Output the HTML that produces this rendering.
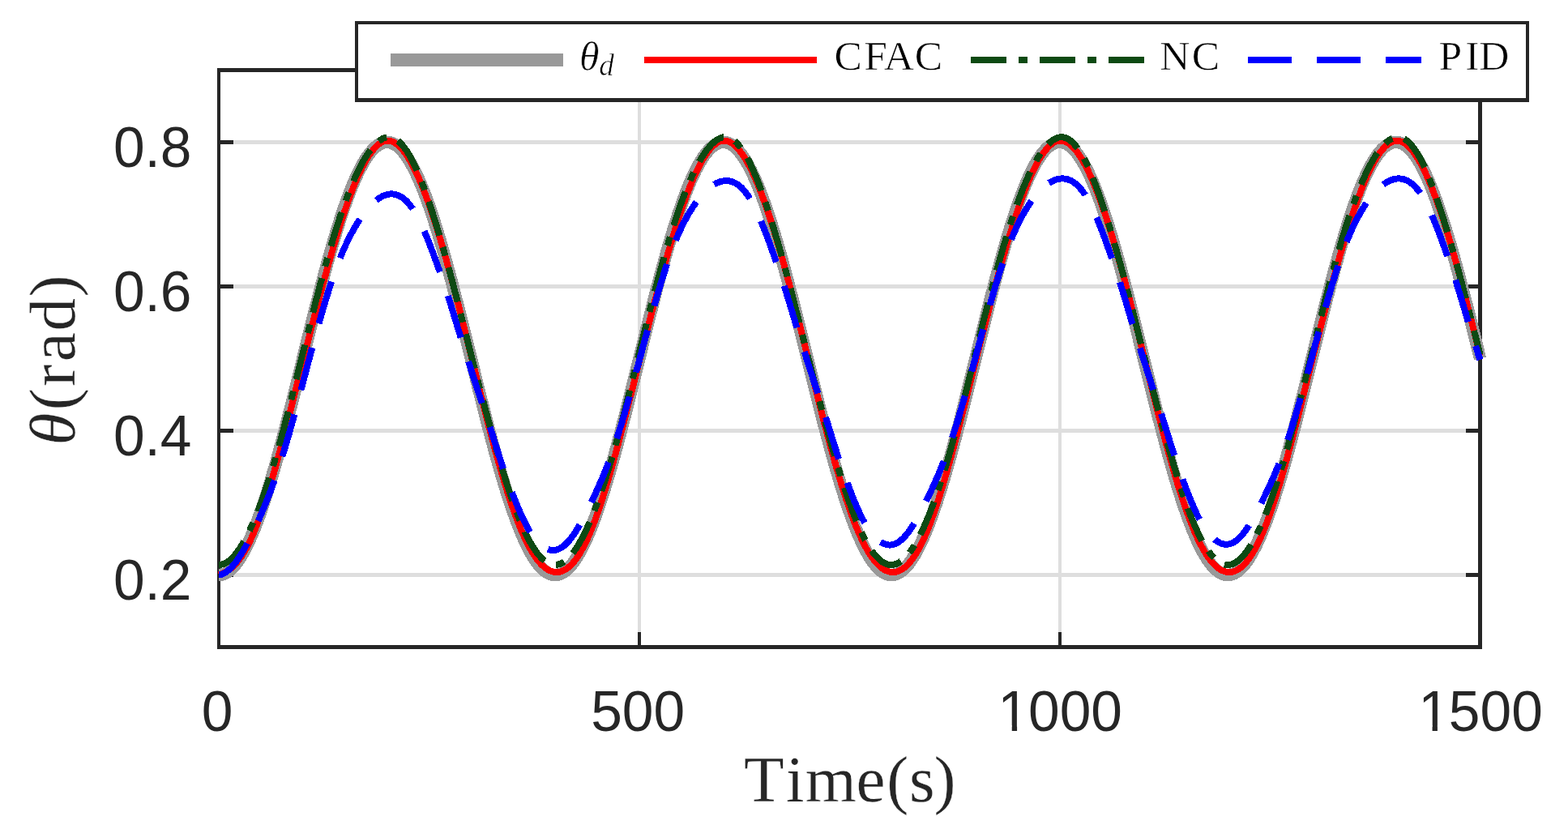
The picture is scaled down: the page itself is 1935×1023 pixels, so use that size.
<!DOCTYPE html>
<html lang="en">
<head>
<meta charset="utf-8">
<style>
html,body{margin:0;padding:0;background:#ffffff;}
body{width:1935px;height:1023px;overflow:hidden;}
svg{display:block;}
</style>
</head>
<body>
<svg width="1935" height="1023" viewBox="0 0 1935 1023">
<rect x="0" y="0" width="1935" height="1023" fill="#ffffff"/>
<g fill="#dedede" shape-rendering="crispEdges">
<rect x="787.13" y="86.40" width="4" height="712.10"/>
<rect x="1305.97" y="86.40" width="4" height="712.10"/>
<rect x="270.00" y="707.29" width="1556.50" height="4.6"/>
<rect x="270.00" y="529.26" width="1556.50" height="4.6"/>
<rect x="270.00" y="351.24" width="1556.50" height="4.6"/>
<rect x="270.00" y="173.21" width="1556.50" height="4.6"/>
</g>
<g fill="#262626" shape-rendering="crispEdges">
<rect x="787.13" y="779.50" width="4" height="19"/>
<rect x="787.13" y="86.40" width="4" height="18"/>
<rect x="1305.97" y="779.50" width="4" height="19"/>
<rect x="1305.97" y="86.40" width="4" height="18"/>
<rect x="270.00" y="707.29" width="18" height="4.6"/>
<rect x="1808.50" y="707.29" width="18" height="4.6"/>
<rect x="270.00" y="529.26" width="18" height="4.6"/>
<rect x="1808.50" y="529.26" width="18" height="4.6"/>
<rect x="270.00" y="351.24" width="18" height="4.6"/>
<rect x="1808.50" y="351.24" width="18" height="4.6"/>
<rect x="270.00" y="173.21" width="18" height="4.6"/>
<rect x="1808.50" y="173.21" width="18" height="4.6"/>
<rect x="268" y="84.1" width="4" height="716.70"/>
<rect x="1824.1" y="84.1" width="4.8" height="716.70"/>
<rect x="268" y="84.1" width="1560.90" height="4.65"/>
<rect x="268" y="796.15" width="1560.90" height="4.65"/>
</g>
<g fill="none" stroke-linejoin="round" stroke-linecap="butt" shape-rendering="crispEdges">
<path d="M270.00,709.49 L271.04,709.45 L272.08,709.36 L273.11,709.19 L274.15,708.96 L275.19,708.66 L276.23,708.30 L277.26,707.87 L278.30,707.38 L279.34,706.82 L280.38,706.20 L281.41,705.51 L282.45,704.76 L283.49,703.94 L284.53,703.06 L285.56,702.11 L286.60,701.10 L287.64,700.02 L288.68,698.88 L289.72,697.68 L290.75,696.42 L291.79,695.09 L292.83,693.70 L293.87,692.25 L294.90,690.74 L295.94,689.16 L296.98,687.52 L298.02,685.83 L299.05,684.07 L300.09,682.26 L301.13,680.38 L302.17,678.45 L303.21,676.46 L304.24,674.41 L305.28,672.30 L306.32,670.14 L307.36,667.92 L308.39,665.64 L309.43,663.31 L310.47,660.93 L311.51,658.49 L312.54,656.00 L313.58,653.45 L314.62,650.85 L315.66,648.21 L316.69,645.51 L317.73,642.76 L318.77,639.96 L319.81,637.11 L320.85,634.22 L321.88,631.27 L322.92,628.28 L323.96,625.25 L325.00,622.17 L326.03,619.05 L327.07,615.88 L328.11,612.67 L329.15,609.41 L330.18,606.12 L331.22,602.78 L332.26,599.41 L333.30,596.00 L334.34,592.55 L335.37,589.06 L336.41,585.54 L337.45,581.98 L338.49,578.38 L339.52,574.76 L340.56,571.10 L341.60,567.40 L342.64,563.68 L343.67,559.93 L344.71,556.15 L345.75,552.34 L346.79,548.50 L347.82,544.64 L348.86,540.75 L349.90,536.84 L350.94,532.91 L351.98,528.95 L353.01,524.97 L354.05,520.97 L355.09,516.95 L356.13,512.91 L357.16,508.86 L358.20,504.79 L359.24,500.70 L360.28,496.60 L361.31,492.49 L362.35,488.36 L363.39,484.22 L364.43,480.08 L365.47,475.92 L366.50,471.75 L367.54,467.58 L368.58,463.40 L369.62,459.22 L370.65,455.03 L371.69,450.84 L372.73,446.64 L373.77,442.45 L374.80,438.26 L375.84,434.06 L376.88,429.87 L377.92,425.68 L378.95,421.50 L379.99,417.32 L381.03,413.15 L382.07,408.98 L383.11,404.82 L384.14,400.68 L385.18,396.54 L386.22,392.41 L387.26,388.30 L388.29,384.20 L389.33,380.11 L390.37,376.04 L391.41,371.99 L392.44,367.95 L393.48,363.93 L394.52,359.93 L395.56,355.95 L396.60,351.99 L397.63,348.06 L398.67,344.15 L399.71,340.26 L400.75,336.40 L401.78,332.56 L402.82,328.75 L403.86,324.97 L404.90,321.22 L405.93,317.50 L406.97,313.80 L408.01,310.14 L409.05,306.52 L410.09,302.92 L411.12,299.36 L412.16,295.84 L413.20,292.35 L414.24,288.90 L415.27,285.49 L416.31,282.12 L417.35,278.78 L418.39,275.49 L419.42,272.23 L420.46,269.02 L421.50,265.85 L422.54,262.73 L423.57,259.65 L424.61,256.62 L425.65,253.63 L426.69,250.68 L427.73,247.79 L428.76,244.94 L429.80,242.14 L430.84,239.39 L431.88,236.69 L432.91,234.05 L433.95,231.45 L434.99,228.90 L436.03,226.41 L437.06,223.97 L438.10,221.59 L439.14,219.26 L440.18,216.98 L441.22,214.76 L442.25,212.60 L443.29,210.49 L444.33,208.44 L445.37,206.45 L446.40,204.52 L447.44,202.64 L448.48,200.83 L449.52,199.07 L450.55,197.38 L451.59,195.74 L452.63,194.16 L453.67,192.65 L454.70,191.20 L455.74,189.81 L456.78,188.48 L457.82,187.22 L458.86,186.02 L459.89,184.88 L460.93,183.80 L461.97,182.79 L463.01,181.84 L464.04,180.96 L465.08,180.14 L466.12,179.39 L467.16,178.70 L468.19,178.08 L469.23,177.52 L470.27,177.03 L471.31,176.60 L472.35,176.24 L473.38,175.94 L474.42,175.71 L475.46,175.54 L476.50,175.45 L477.53,175.41 L478.57,175.45 L479.61,175.54 L480.65,175.71 L481.68,175.94 L482.72,176.24 L483.76,176.60 L484.80,177.03 L485.83,177.52 L486.87,178.08 L487.91,178.70 L488.95,179.39 L489.99,180.14 L491.02,180.96 L492.06,181.84 L493.10,182.79 L494.14,183.80 L495.17,184.88 L496.21,186.02 L497.25,187.22 L498.29,188.48 L499.32,189.81 L500.36,191.20 L501.40,192.65 L502.44,194.16 L503.48,195.74 L504.51,197.38 L505.55,199.07 L506.59,200.83 L507.63,202.64 L508.66,204.52 L509.70,206.45 L510.74,208.44 L511.78,210.49 L512.81,212.60 L513.85,214.76 L514.89,216.98 L515.93,219.26 L516.96,221.59 L518.00,223.97 L519.04,226.41 L520.08,228.90 L521.12,231.45 L522.15,234.05 L523.19,236.69 L524.23,239.39 L525.27,242.14 L526.30,244.94 L527.34,247.79 L528.38,250.68 L529.42,253.63 L530.45,256.62 L531.49,259.65 L532.53,262.73 L533.57,265.85 L534.61,269.02 L535.64,272.23 L536.68,275.49 L537.72,278.78 L538.76,282.12 L539.79,285.49 L540.83,288.90 L541.87,292.35 L542.91,295.84 L543.94,299.36 L544.98,302.92 L546.02,306.52 L547.06,310.14 L548.09,313.80 L549.13,317.50 L550.17,321.22 L551.21,324.97 L552.25,328.75 L553.28,332.56 L554.32,336.40 L555.36,340.26 L556.40,344.15 L557.43,348.06 L558.47,351.99 L559.51,355.95 L560.55,359.93 L561.58,363.93 L562.62,367.95 L563.66,371.99 L564.70,376.04 L565.74,380.11 L566.77,384.20 L567.81,388.30 L568.85,392.41 L569.89,396.54 L570.92,400.68 L571.96,404.82 L573.00,408.98 L574.04,413.15 L575.07,417.32 L576.11,421.50 L577.15,425.68 L578.19,429.87 L579.22,434.06 L580.26,438.26 L581.30,442.45 L582.34,446.64 L583.38,450.84 L584.41,455.03 L585.45,459.22 L586.49,463.40 L587.53,467.58 L588.56,471.75 L589.60,475.92 L590.64,480.08 L591.68,484.22 L592.71,488.36 L593.75,492.49 L594.79,496.60 L595.83,500.70 L596.87,504.79 L597.90,508.86 L598.94,512.91 L599.98,516.95 L601.02,520.97 L602.05,524.97 L603.09,528.95 L604.13,532.91 L605.17,536.84 L606.20,540.75 L607.24,544.64 L608.28,548.50 L609.32,552.34 L610.35,556.15 L611.39,559.93 L612.43,563.68 L613.47,567.40 L614.51,571.10 L615.54,574.76 L616.58,578.38 L617.62,581.98 L618.66,585.54 L619.69,589.06 L620.73,592.55 L621.77,596.00 L622.81,599.41 L623.84,602.78 L624.88,606.12 L625.92,609.41 L626.96,612.67 L628.00,615.88 L629.03,619.05 L630.07,622.17 L631.11,625.25 L632.15,628.28 L633.18,631.27 L634.22,634.22 L635.26,637.11 L636.30,639.96 L637.33,642.76 L638.37,645.51 L639.41,648.21 L640.45,650.85 L641.48,653.45 L642.52,656.00 L643.56,658.49 L644.60,660.93 L645.64,663.31 L646.67,665.64 L647.71,667.92 L648.75,670.14 L649.79,672.30 L650.82,674.41 L651.86,676.46 L652.90,678.45 L653.94,680.38 L654.97,682.26 L656.01,684.07 L657.05,685.83 L658.09,687.52 L659.12,689.16 L660.16,690.74 L661.20,692.25 L662.24,693.70 L663.28,695.09 L664.31,696.42 L665.35,697.68 L666.39,698.88 L667.43,700.02 L668.46,701.10 L669.50,702.11 L670.54,703.06 L671.58,703.94 L672.61,704.76 L673.65,705.51 L674.69,706.20 L675.73,706.82 L676.77,707.38 L677.80,707.87 L678.84,708.30 L679.88,708.66 L680.92,708.96 L681.95,709.19 L682.99,709.36 L684.03,709.45 L685.07,709.49 L686.10,709.45 L687.14,709.36 L688.18,709.19 L689.22,708.96 L690.25,708.66 L691.29,708.30 L692.33,707.87 L693.37,707.38 L694.41,706.82 L695.44,706.20 L696.48,705.51 L697.52,704.76 L698.56,703.94 L699.59,703.06 L700.63,702.11 L701.67,701.10 L702.71,700.02 L703.74,698.88 L704.78,697.68 L705.82,696.42 L706.86,695.09 L707.90,693.70 L708.93,692.25 L709.97,690.74 L711.01,689.16 L712.05,687.52 L713.08,685.83 L714.12,684.07 L715.16,682.26 L716.20,680.38 L717.23,678.45 L718.27,676.46 L719.31,674.41 L720.35,672.30 L721.38,670.14 L722.42,667.92 L723.46,665.64 L724.50,663.31 L725.54,660.93 L726.57,658.49 L727.61,656.00 L728.65,653.45 L729.69,650.85 L730.72,648.21 L731.76,645.51 L732.80,642.76 L733.84,639.96 L734.87,637.11 L735.91,634.22 L736.95,631.27 L737.99,628.28 L739.03,625.25 L740.06,622.17 L741.10,619.05 L742.14,615.88 L743.18,612.67 L744.21,609.41 L745.25,606.12 L746.29,602.78 L747.33,599.41 L748.36,596.00 L749.40,592.55 L750.44,589.06 L751.48,585.54 L752.51,581.98 L753.55,578.38 L754.59,574.76 L755.63,571.10 L756.67,567.40 L757.70,563.68 L758.74,559.93 L759.78,556.15 L760.82,552.34 L761.85,548.50 L762.89,544.64 L763.93,540.75 L764.97,536.84 L766.00,532.91 L767.04,528.95 L768.08,524.97 L769.12,520.97 L770.16,516.95 L771.19,512.91 L772.23,508.86 L773.27,504.79 L774.31,500.70 L775.34,496.60 L776.38,492.49 L777.42,488.36 L778.46,484.22 L779.49,480.08 L780.53,475.92 L781.57,471.75 L782.61,467.58 L783.64,463.40 L784.68,459.22 L785.72,455.03 L786.76,450.84 L787.80,446.64 L788.83,442.45 L789.87,438.26 L790.91,434.06 L791.95,429.87 L792.98,425.68 L794.02,421.50 L795.06,417.32 L796.10,413.15 L797.13,408.98 L798.17,404.82 L799.21,400.68 L800.25,396.54 L801.29,392.41 L802.32,388.30 L803.36,384.20 L804.40,380.11 L805.44,376.04 L806.47,371.99 L807.51,367.95 L808.55,363.93 L809.59,359.93 L810.62,355.95 L811.66,351.99 L812.70,348.06 L813.74,344.15 L814.77,340.26 L815.81,336.40 L816.85,332.56 L817.89,328.75 L818.93,324.97 L819.96,321.22 L821.00,317.50 L822.04,313.80 L823.08,310.14 L824.11,306.52 L825.15,302.92 L826.19,299.36 L827.23,295.84 L828.26,292.35 L829.30,288.90 L830.34,285.49 L831.38,282.12 L832.42,278.78 L833.45,275.49 L834.49,272.23 L835.53,269.02 L836.57,265.85 L837.60,262.73 L838.64,259.65 L839.68,256.62 L840.72,253.63 L841.75,250.68 L842.79,247.79 L843.83,244.94 L844.87,242.14 L845.90,239.39 L846.94,236.69 L847.98,234.05 L849.02,231.45 L850.06,228.90 L851.09,226.41 L852.13,223.97 L853.17,221.59 L854.21,219.26 L855.24,216.98 L856.28,214.76 L857.32,212.60 L858.36,210.49 L859.39,208.44 L860.43,206.45 L861.47,204.52 L862.51,202.64 L863.55,200.83 L864.58,199.07 L865.62,197.38 L866.66,195.74 L867.70,194.16 L868.73,192.65 L869.77,191.20 L870.81,189.81 L871.85,188.48 L872.88,187.22 L873.92,186.02 L874.96,184.88 L876.00,183.80 L877.03,182.79 L878.07,181.84 L879.11,180.96 L880.15,180.14 L881.19,179.39 L882.22,178.70 L883.26,178.08 L884.30,177.52 L885.34,177.03 L886.37,176.60 L887.41,176.24 L888.45,175.94 L889.49,175.71 L890.52,175.54 L891.56,175.45 L892.60,175.41 L893.64,175.45 L894.68,175.54 L895.71,175.71 L896.75,175.94 L897.79,176.24 L898.83,176.60 L899.86,177.03 L900.90,177.52 L901.94,178.08 L902.98,178.70 L904.01,179.39 L905.05,180.14 L906.09,180.96 L907.13,181.84 L908.16,182.79 L909.20,183.80 L910.24,184.88 L911.28,186.02 L912.32,187.22 L913.35,188.48 L914.39,189.81 L915.43,191.20 L916.47,192.65 L917.50,194.16 L918.54,195.74 L919.58,197.38 L920.62,199.07 L921.65,200.83 L922.69,202.64 L923.73,204.52 L924.77,206.45 L925.81,208.44 L926.84,210.49 L927.88,212.60 L928.92,214.76 L929.96,216.98 L930.99,219.26 L932.03,221.59 L933.07,223.97 L934.11,226.41 L935.14,228.90 L936.18,231.45 L937.22,234.05 L938.26,236.69 L939.29,239.39 L940.33,242.14 L941.37,244.94 L942.41,247.79 L943.45,250.68 L944.48,253.63 L945.52,256.62 L946.56,259.65 L947.60,262.73 L948.63,265.85 L949.67,269.02 L950.71,272.23 L951.75,275.49 L952.78,278.78 L953.82,282.12 L954.86,285.49 L955.90,288.90 L956.94,292.35 L957.97,295.84 L959.01,299.36 L960.05,302.92 L961.09,306.52 L962.12,310.14 L963.16,313.80 L964.20,317.50 L965.24,321.22 L966.27,324.97 L967.31,328.75 L968.35,332.56 L969.39,336.40 L970.42,340.26 L971.46,344.15 L972.50,348.06 L973.54,351.99 L974.58,355.95 L975.61,359.93 L976.65,363.93 L977.69,367.95 L978.73,371.99 L979.76,376.04 L980.80,380.11 L981.84,384.20 L982.88,388.30 L983.91,392.41 L984.95,396.54 L985.99,400.68 L987.03,404.82 L988.07,408.98 L989.10,413.15 L990.14,417.32 L991.18,421.50 L992.22,425.68 L993.25,429.87 L994.29,434.06 L995.33,438.26 L996.37,442.45 L997.40,446.64 L998.44,450.84 L999.48,455.03 L1000.52,459.22 L1001.55,463.40 L1002.59,467.58 L1003.63,471.75 L1004.67,475.92 L1005.71,480.08 L1006.74,484.22 L1007.78,488.36 L1008.82,492.49 L1009.86,496.60 L1010.89,500.70 L1011.93,504.79 L1012.97,508.86 L1014.01,512.91 L1015.04,516.95 L1016.08,520.97 L1017.12,524.97 L1018.16,528.95 L1019.20,532.91 L1020.23,536.84 L1021.27,540.75 L1022.31,544.64 L1023.35,548.50 L1024.38,552.34 L1025.42,556.15 L1026.46,559.93 L1027.50,563.68 L1028.53,567.40 L1029.57,571.10 L1030.61,574.76 L1031.65,578.38 L1032.68,581.98 L1033.72,585.54 L1034.76,589.06 L1035.80,592.55 L1036.84,596.00 L1037.87,599.41 L1038.91,602.78 L1039.95,606.12 L1040.99,609.41 L1042.02,612.67 L1043.06,615.88 L1044.10,619.05 L1045.14,622.17 L1046.17,625.25 L1047.21,628.28 L1048.25,631.27 L1049.29,634.22 L1050.33,637.11 L1051.36,639.96 L1052.40,642.76 L1053.44,645.51 L1054.48,648.21 L1055.51,650.85 L1056.55,653.45 L1057.59,656.00 L1058.63,658.49 L1059.66,660.93 L1060.70,663.31 L1061.74,665.64 L1062.78,667.92 L1063.82,670.14 L1064.85,672.30 L1065.89,674.41 L1066.93,676.46 L1067.97,678.45 L1069.00,680.38 L1070.04,682.26 L1071.08,684.07 L1072.12,685.83 L1073.15,687.52 L1074.19,689.16 L1075.23,690.74 L1076.27,692.25 L1077.30,693.70 L1078.34,695.09 L1079.38,696.42 L1080.42,697.68 L1081.46,698.88 L1082.49,700.02 L1083.53,701.10 L1084.57,702.11 L1085.61,703.06 L1086.64,703.94 L1087.68,704.76 L1088.72,705.51 L1089.76,706.20 L1090.79,706.82 L1091.83,707.38 L1092.87,707.87 L1093.91,708.30 L1094.95,708.66 L1095.98,708.96 L1097.02,709.19 L1098.06,709.36 L1099.10,709.45 L1100.13,709.49 L1101.17,709.45 L1102.21,709.36 L1103.25,709.19 L1104.28,708.96 L1105.32,708.66 L1106.36,708.30 L1107.40,707.87 L1108.43,707.38 L1109.47,706.82 L1110.51,706.20 L1111.55,705.51 L1112.59,704.76 L1113.62,703.94 L1114.66,703.06 L1115.70,702.11 L1116.74,701.10 L1117.77,700.02 L1118.81,698.88 L1119.85,697.68 L1120.89,696.42 L1121.92,695.09 L1122.96,693.70 L1124.00,692.25 L1125.04,690.74 L1126.08,689.16 L1127.11,687.52 L1128.15,685.83 L1129.19,684.07 L1130.23,682.26 L1131.26,680.38 L1132.30,678.45 L1133.34,676.46 L1134.38,674.41 L1135.41,672.30 L1136.45,670.14 L1137.49,667.92 L1138.53,665.64 L1139.56,663.31 L1140.60,660.93 L1141.64,658.49 L1142.68,656.00 L1143.72,653.45 L1144.75,650.85 L1145.79,648.21 L1146.83,645.51 L1147.87,642.76 L1148.90,639.96 L1149.94,637.11 L1150.98,634.22 L1152.02,631.27 L1153.05,628.28 L1154.09,625.25 L1155.13,622.17 L1156.17,619.05 L1157.20,615.88 L1158.24,612.67 L1159.28,609.41 L1160.32,606.12 L1161.36,602.78 L1162.39,599.41 L1163.43,596.00 L1164.47,592.55 L1165.51,589.06 L1166.54,585.54 L1167.58,581.98 L1168.62,578.38 L1169.66,574.76 L1170.69,571.10 L1171.73,567.40 L1172.77,563.68 L1173.81,559.93 L1174.85,556.15 L1175.88,552.34 L1176.92,548.50 L1177.96,544.64 L1179.00,540.75 L1180.03,536.84 L1181.07,532.91 L1182.11,528.95 L1183.15,524.97 L1184.18,520.97 L1185.22,516.95 L1186.26,512.91 L1187.30,508.86 L1188.34,504.79 L1189.37,500.70 L1190.41,496.60 L1191.45,492.49 L1192.49,488.36 L1193.52,484.22 L1194.56,480.08 L1195.60,475.92 L1196.64,471.75 L1197.67,467.58 L1198.71,463.40 L1199.75,459.22 L1200.79,455.03 L1201.82,450.84 L1202.86,446.64 L1203.90,442.45 L1204.94,438.26 L1205.98,434.06 L1207.01,429.87 L1208.05,425.68 L1209.09,421.50 L1210.13,417.32 L1211.16,413.15 L1212.20,408.98 L1213.24,404.82 L1214.28,400.68 L1215.31,396.54 L1216.35,392.41 L1217.39,388.30 L1218.43,384.20 L1219.47,380.11 L1220.50,376.04 L1221.54,371.99 L1222.58,367.95 L1223.62,363.93 L1224.65,359.93 L1225.69,355.95 L1226.73,351.99 L1227.77,348.06 L1228.80,344.15 L1229.84,340.26 L1230.88,336.40 L1231.92,332.56 L1232.95,328.75 L1233.99,324.97 L1235.03,321.22 L1236.07,317.50 L1237.11,313.80 L1238.14,310.14 L1239.18,306.52 L1240.22,302.92 L1241.26,299.36 L1242.29,295.84 L1243.33,292.35 L1244.37,288.90 L1245.41,285.49 L1246.44,282.12 L1247.48,278.78 L1248.52,275.49 L1249.56,272.23 L1250.60,269.02 L1251.63,265.85 L1252.67,262.73 L1253.71,259.65 L1254.75,256.62 L1255.78,253.63 L1256.82,250.68 L1257.86,247.79 L1258.90,244.94 L1259.93,242.14 L1260.97,239.39 L1262.01,236.69 L1263.05,234.05 L1264.08,231.45 L1265.12,228.90 L1266.16,226.41 L1267.20,223.97 L1268.24,221.59 L1269.27,219.26 L1270.31,216.98 L1271.35,214.76 L1272.39,212.60 L1273.42,210.49 L1274.46,208.44 L1275.50,206.45 L1276.54,204.52 L1277.57,202.64 L1278.61,200.83 L1279.65,199.07 L1280.69,197.38 L1281.72,195.74 L1282.76,194.16 L1283.80,192.65 L1284.84,191.20 L1285.88,189.81 L1286.91,188.48 L1287.95,187.22 L1288.99,186.02 L1290.03,184.88 L1291.06,183.80 L1292.10,182.79 L1293.14,181.84 L1294.18,180.96 L1295.21,180.14 L1296.25,179.39 L1297.29,178.70 L1298.33,178.08 L1299.37,177.52 L1300.40,177.03 L1301.44,176.60 L1302.48,176.24 L1303.52,175.94 L1304.55,175.71 L1305.59,175.54 L1306.63,175.45 L1307.67,175.41 L1308.70,175.45 L1309.74,175.54 L1310.78,175.71 L1311.82,175.94 L1312.86,176.24 L1313.89,176.60 L1314.93,177.03 L1315.97,177.52 L1317.01,178.08 L1318.04,178.70 L1319.08,179.39 L1320.12,180.14 L1321.16,180.96 L1322.19,181.84 L1323.23,182.79 L1324.27,183.80 L1325.31,184.88 L1326.34,186.02 L1327.38,187.22 L1328.42,188.48 L1329.46,189.81 L1330.50,191.20 L1331.53,192.65 L1332.57,194.16 L1333.61,195.74 L1334.65,197.38 L1335.68,199.07 L1336.72,200.83 L1337.76,202.64 L1338.80,204.52 L1339.83,206.45 L1340.87,208.44 L1341.91,210.49 L1342.95,212.60 L1343.98,214.76 L1345.02,216.98 L1346.06,219.26 L1347.10,221.59 L1348.14,223.97 L1349.17,226.41 L1350.21,228.90 L1351.25,231.45 L1352.29,234.05 L1353.32,236.69 L1354.36,239.39 L1355.40,242.14 L1356.44,244.94 L1357.47,247.79 L1358.51,250.68 L1359.55,253.63 L1360.59,256.62 L1361.63,259.65 L1362.66,262.73 L1363.70,265.85 L1364.74,269.02 L1365.78,272.23 L1366.81,275.49 L1367.85,278.78 L1368.89,282.12 L1369.93,285.49 L1370.96,288.90 L1372.00,292.35 L1373.04,295.84 L1374.08,299.36 L1375.12,302.92 L1376.15,306.52 L1377.19,310.14 L1378.23,313.80 L1379.27,317.50 L1380.30,321.22 L1381.34,324.97 L1382.38,328.75 L1383.42,332.56 L1384.45,336.40 L1385.49,340.26 L1386.53,344.15 L1387.57,348.06 L1388.60,351.99 L1389.64,355.95 L1390.68,359.93 L1391.72,363.93 L1392.76,367.95 L1393.79,371.99 L1394.83,376.04 L1395.87,380.11 L1396.91,384.20 L1397.94,388.30 L1398.98,392.41 L1400.02,396.54 L1401.06,400.68 L1402.09,404.82 L1403.13,408.98 L1404.17,413.15 L1405.21,417.32 L1406.24,421.50 L1407.28,425.68 L1408.32,429.87 L1409.36,434.06 L1410.40,438.26 L1411.43,442.45 L1412.47,446.64 L1413.51,450.84 L1414.55,455.03 L1415.58,459.22 L1416.62,463.40 L1417.66,467.58 L1418.70,471.75 L1419.73,475.92 L1420.77,480.08 L1421.81,484.22 L1422.85,488.36 L1423.89,492.49 L1424.92,496.60 L1425.96,500.70 L1427.00,504.79 L1428.04,508.86 L1429.07,512.91 L1430.11,516.95 L1431.15,520.97 L1432.19,524.97 L1433.22,528.95 L1434.26,532.91 L1435.30,536.84 L1436.34,540.75 L1437.38,544.64 L1438.41,548.50 L1439.45,552.34 L1440.49,556.15 L1441.53,559.93 L1442.56,563.68 L1443.60,567.40 L1444.64,571.10 L1445.68,574.76 L1446.71,578.38 L1447.75,581.98 L1448.79,585.54 L1449.83,589.06 L1450.86,592.55 L1451.90,596.00 L1452.94,599.41 L1453.98,602.78 L1455.02,606.12 L1456.05,609.41 L1457.09,612.67 L1458.13,615.88 L1459.17,619.05 L1460.20,622.17 L1461.24,625.25 L1462.28,628.28 L1463.32,631.27 L1464.35,634.22 L1465.39,637.11 L1466.43,639.96 L1467.47,642.76 L1468.51,645.51 L1469.54,648.21 L1470.58,650.85 L1471.62,653.45 L1472.66,656.00 L1473.69,658.49 L1474.73,660.93 L1475.77,663.31 L1476.81,665.64 L1477.84,667.92 L1478.88,670.14 L1479.92,672.30 L1480.96,674.41 L1481.99,676.46 L1483.03,678.45 L1484.07,680.38 L1485.11,682.26 L1486.15,684.07 L1487.18,685.83 L1488.22,687.52 L1489.26,689.16 L1490.30,690.74 L1491.33,692.25 L1492.37,693.70 L1493.41,695.09 L1494.45,696.42 L1495.48,697.68 L1496.52,698.88 L1497.56,700.02 L1498.60,701.10 L1499.63,702.11 L1500.67,703.06 L1501.71,703.94 L1502.75,704.76 L1503.79,705.51 L1504.82,706.20 L1505.86,706.82 L1506.90,707.38 L1507.94,707.87 L1508.97,708.30 L1510.01,708.66 L1511.05,708.96 L1512.09,709.19 L1513.12,709.36 L1514.16,709.45 L1515.20,709.49 L1516.24,709.45 L1517.28,709.36 L1518.31,709.19 L1519.35,708.96 L1520.39,708.66 L1521.43,708.30 L1522.46,707.87 L1523.50,707.38 L1524.54,706.82 L1525.58,706.20 L1526.61,705.51 L1527.65,704.76 L1528.69,703.94 L1529.73,703.06 L1530.77,702.11 L1531.80,701.10 L1532.84,700.02 L1533.88,698.88 L1534.92,697.68 L1535.95,696.42 L1536.99,695.09 L1538.03,693.70 L1539.07,692.25 L1540.10,690.74 L1541.14,689.16 L1542.18,687.52 L1543.22,685.83 L1544.25,684.07 L1545.29,682.26 L1546.33,680.38 L1547.37,678.45 L1548.41,676.46 L1549.44,674.41 L1550.48,672.30 L1551.52,670.14 L1552.56,667.92 L1553.59,665.64 L1554.63,663.31 L1555.67,660.93 L1556.71,658.49 L1557.74,656.00 L1558.78,653.45 L1559.82,650.85 L1560.86,648.21 L1561.89,645.51 L1562.93,642.76 L1563.97,639.96 L1565.01,637.11 L1566.05,634.22 L1567.08,631.27 L1568.12,628.28 L1569.16,625.25 L1570.20,622.17 L1571.23,619.05 L1572.27,615.88 L1573.31,612.67 L1574.35,609.41 L1575.38,606.12 L1576.42,602.78 L1577.46,599.41 L1578.50,596.00 L1579.54,592.55 L1580.57,589.06 L1581.61,585.54 L1582.65,581.98 L1583.69,578.38 L1584.72,574.76 L1585.76,571.10 L1586.80,567.40 L1587.84,563.68 L1588.87,559.93 L1589.91,556.15 L1590.95,552.34 L1591.99,548.50 L1593.03,544.64 L1594.06,540.75 L1595.10,536.84 L1596.14,532.91 L1597.18,528.95 L1598.21,524.97 L1599.25,520.97 L1600.29,516.95 L1601.33,512.91 L1602.36,508.86 L1603.40,504.79 L1604.44,500.70 L1605.48,496.60 L1606.51,492.49 L1607.55,488.36 L1608.59,484.22 L1609.63,480.08 L1610.67,475.92 L1611.70,471.75 L1612.74,467.58 L1613.78,463.40 L1614.82,459.22 L1615.85,455.03 L1616.89,450.84 L1617.93,446.64 L1618.97,442.45 L1620.00,438.26 L1621.04,434.06 L1622.08,429.87 L1623.12,425.68 L1624.15,421.50 L1625.19,417.32 L1626.23,413.15 L1627.27,408.98 L1628.31,404.82 L1629.34,400.68 L1630.38,396.54 L1631.42,392.41 L1632.46,388.30 L1633.49,384.20 L1634.53,380.11 L1635.57,376.04 L1636.61,371.99 L1637.64,367.95 L1638.68,363.93 L1639.72,359.93 L1640.76,355.95 L1641.80,351.99 L1642.83,348.06 L1643.87,344.15 L1644.91,340.26 L1645.95,336.40 L1646.98,332.56 L1648.02,328.75 L1649.06,324.97 L1650.10,321.22 L1651.13,317.50 L1652.17,313.80 L1653.21,310.14 L1654.25,306.52 L1655.29,302.92 L1656.32,299.36 L1657.36,295.84 L1658.40,292.35 L1659.44,288.90 L1660.47,285.49 L1661.51,282.12 L1662.55,278.78 L1663.59,275.49 L1664.62,272.23 L1665.66,269.02 L1666.70,265.85 L1667.74,262.73 L1668.77,259.65 L1669.81,256.62 L1670.85,253.63 L1671.89,250.68 L1672.93,247.79 L1673.96,244.94 L1675.00,242.14 L1676.04,239.39 L1677.08,236.69 L1678.11,234.05 L1679.15,231.45 L1680.19,228.90 L1681.23,226.41 L1682.26,223.97 L1683.30,221.59 L1684.34,219.26 L1685.38,216.98 L1686.41,214.76 L1687.45,212.60 L1688.49,210.49 L1689.53,208.44 L1690.57,206.45 L1691.60,204.52 L1692.64,202.64 L1693.68,200.83 L1694.72,199.07 L1695.75,197.38 L1696.79,195.74 L1697.83,194.16 L1698.87,192.65 L1699.90,191.20 L1700.94,189.81 L1701.98,188.48 L1703.02,187.22 L1704.06,186.02 L1705.09,184.88 L1706.13,183.80 L1707.17,182.79 L1708.21,181.84 L1709.24,180.96 L1710.28,180.14 L1711.32,179.39 L1712.36,178.70 L1713.39,178.08 L1714.43,177.52 L1715.47,177.03 L1716.51,176.60 L1717.55,176.24 L1718.58,175.94 L1719.62,175.71 L1720.66,175.54 L1721.70,175.45 L1722.73,175.41 L1723.77,175.45 L1724.81,175.54 L1725.85,175.71 L1726.88,175.94 L1727.92,176.24 L1728.96,176.60 L1730.00,177.03 L1731.03,177.52 L1732.07,178.08 L1733.11,178.70 L1734.15,179.39 L1735.19,180.14 L1736.22,180.96 L1737.26,181.84 L1738.30,182.79 L1739.34,183.80 L1740.37,184.88 L1741.41,186.02 L1742.45,187.22 L1743.49,188.48 L1744.52,189.81 L1745.56,191.20 L1746.60,192.65 L1747.64,194.16 L1748.67,195.74 L1749.71,197.38 L1750.75,199.07 L1751.79,200.83 L1752.83,202.64 L1753.86,204.52 L1754.90,206.45 L1755.94,208.44 L1756.98,210.49 L1758.01,212.60 L1759.05,214.76 L1760.09,216.98 L1761.13,219.26 L1762.16,221.59 L1763.20,223.97 L1764.24,226.41 L1765.28,228.90 L1766.32,231.45 L1767.35,234.05 L1768.39,236.69 L1769.43,239.39 L1770.47,242.14 L1771.50,244.94 L1772.54,247.79 L1773.58,250.68 L1774.62,253.63 L1775.65,256.62 L1776.69,259.65 L1777.73,262.73 L1778.77,265.85 L1779.81,269.02 L1780.84,272.23 L1781.88,275.49 L1782.92,278.78 L1783.96,282.12 L1784.99,285.49 L1786.03,288.90 L1787.07,292.35 L1788.11,295.84 L1789.14,299.36 L1790.18,302.92 L1791.22,306.52 L1792.26,310.14 L1793.29,313.80 L1794.33,317.50 L1795.37,321.22 L1796.41,324.97 L1797.45,328.75 L1798.48,332.56 L1799.52,336.40 L1800.56,340.26 L1801.60,344.15 L1802.63,348.06 L1803.67,351.99 L1804.71,355.95 L1805.75,359.93 L1806.78,363.93 L1807.82,367.95 L1808.86,371.99 L1809.90,376.04 L1810.93,380.11 L1811.97,384.20 L1813.01,388.30 L1814.05,392.41 L1815.09,396.54 L1816.12,400.68 L1817.16,404.82 L1818.20,408.98 L1819.24,413.15 L1820.27,417.32 L1821.31,421.50 L1822.35,425.68 L1823.39,429.87 L1824.42,434.06 L1825.46,438.26 L1826.50,442.45" stroke="#999999" stroke-width="15.5"/>
<path d="M270.00,709.49 L271.04,709.05 L272.08,708.62 L273.11,708.18 L274.15,707.74 L275.19,707.28 L276.23,706.81 L277.26,706.31 L278.30,705.78 L279.34,705.22 L280.38,704.62 L281.41,703.98 L282.45,703.29 L283.49,702.56 L284.53,701.79 L285.56,700.96 L286.60,700.08 L287.64,699.14 L288.68,698.16 L289.72,697.11 L290.75,696.01 L291.79,694.85 L292.83,693.63 L293.87,692.35 L294.90,691.01 L295.94,689.61 L296.98,688.15 L298.02,686.62 L299.05,685.04 L300.09,683.39 L301.13,681.68 L302.17,679.91 L303.21,678.07 L304.24,676.17 L305.28,674.21 L306.32,672.19 L307.36,670.11 L308.39,667.96 L309.43,665.75 L310.47,663.47 L311.51,661.14 L312.54,658.74 L313.58,656.29 L314.62,653.77 L315.66,651.19 L316.69,648.56 L317.73,645.86 L318.77,643.12 L319.81,640.31 L320.85,637.45 L321.88,634.54 L322.92,631.58 L323.96,628.56 L325.00,625.50 L326.03,622.38 L327.07,619.22 L328.11,616.01 L329.15,612.76 L330.18,609.46 L331.22,606.12 L332.26,602.73 L333.30,599.30 L334.34,595.84 L335.37,592.33 L336.41,588.79 L337.45,585.21 L338.49,581.59 L339.52,577.94 L340.56,574.26 L341.60,570.54 L342.64,566.80 L343.67,563.02 L344.71,559.22 L345.75,555.39 L346.79,551.53 L347.82,547.65 L348.86,543.75 L349.90,539.82 L350.94,535.87 L351.98,531.90 L353.01,527.91 L354.05,523.91 L355.09,519.89 L356.13,515.85 L357.16,511.80 L358.20,507.73 L359.24,503.65 L360.28,499.57 L361.31,495.47 L362.35,491.36 L363.39,487.25 L364.43,483.13 L365.47,479.01 L366.50,474.88 L367.54,470.76 L368.58,466.63 L369.62,462.50 L370.65,458.37 L371.69,454.25 L372.73,450.13 L373.77,446.01 L374.80,441.90 L375.84,437.80 L376.88,433.71 L377.92,429.62 L378.95,425.54 L379.99,421.47 L381.03,417.41 L382.07,413.37 L383.11,409.33 L384.14,405.30 L385.18,401.29 L386.22,397.28 L387.26,393.29 L388.29,389.32 L389.33,385.35 L390.37,381.40 L391.41,377.47 L392.44,373.55 L393.48,369.65 L394.52,365.76 L395.56,361.89 L396.60,358.04 L397.63,354.21 L398.67,350.39 L399.71,346.59 L400.75,342.81 L401.78,339.05 L402.82,335.31 L403.86,331.59 L404.90,327.89 L405.93,324.22 L406.97,320.56 L408.01,316.93 L409.05,313.32 L410.09,309.74 L411.12,306.19 L412.16,302.66 L413.20,299.16 L414.24,295.69 L415.27,292.25 L416.31,288.84 L417.35,285.47 L418.39,282.12 L419.42,278.82 L420.46,275.54 L421.50,272.31 L422.54,269.11 L423.57,265.95 L424.61,262.83 L425.65,259.74 L426.69,256.70 L427.73,253.70 L428.76,250.75 L429.80,247.83 L430.84,244.96 L431.88,242.14 L432.91,239.36 L433.95,236.63 L434.99,233.94 L436.03,231.31 L437.06,228.72 L438.10,226.18 L439.14,223.70 L440.18,221.26 L441.22,218.88 L442.25,216.55 L443.29,214.27 L444.33,212.05 L445.37,209.88 L446.40,207.77 L447.44,205.71 L448.48,203.71 L449.52,201.77 L450.55,199.89 L451.59,198.07 L452.63,196.31 L453.67,194.61 L454.70,192.97 L455.74,191.39 L456.78,189.87 L457.82,188.42 L458.86,187.02 L459.89,185.70 L460.93,184.43 L461.97,183.24 L463.01,182.10 L464.04,181.04 L465.08,180.04 L466.12,179.11 L467.16,178.24 L468.19,177.45 L469.23,176.73 L470.27,176.08 L471.31,175.51 L472.35,175.00 L473.38,174.58 L474.42,174.23 L475.46,173.95 L476.50,173.75 L477.53,173.63 L478.57,173.59 L479.61,173.63 L480.65,173.74 L481.68,173.93 L482.72,174.20 L483.76,174.54 L484.80,174.96 L485.83,175.44 L486.87,176.00 L487.91,176.64 L488.95,177.34 L489.99,178.11 L491.02,178.95 L492.06,179.86 L493.10,180.83 L494.14,181.87 L495.17,182.98 L496.21,184.15 L497.25,185.38 L498.29,186.68 L499.32,188.04 L500.36,189.46 L501.40,190.95 L502.44,192.50 L503.48,194.11 L504.51,195.78 L505.55,197.51 L506.59,199.29 L507.63,201.14 L508.66,203.05 L509.70,205.01 L510.74,207.03 L511.78,209.11 L512.81,211.24 L513.85,213.43 L514.89,215.67 L515.93,217.96 L516.96,220.31 L518.00,222.71 L519.04,225.16 L520.08,227.66 L521.12,230.21 L522.15,232.81 L523.19,235.45 L524.23,238.15 L525.27,240.89 L526.30,243.67 L527.34,246.50 L528.38,249.37 L529.42,252.29 L530.45,255.25 L531.49,258.25 L532.53,261.29 L533.57,264.37 L534.61,267.49 L535.64,270.65 L536.68,273.85 L537.72,277.09 L538.76,280.36 L539.79,283.67 L540.83,287.02 L541.87,290.41 L542.91,293.83 L543.94,297.28 L544.98,300.77 L546.02,304.30 L547.06,307.85 L548.09,311.44 L549.13,315.06 L550.17,318.72 L551.21,322.40 L552.25,326.11 L553.28,329.86 L554.32,333.63 L555.36,337.43 L556.40,341.25 L557.43,345.10 L558.47,348.98 L559.51,352.89 L560.55,356.82 L561.58,360.77 L562.62,364.74 L563.66,368.74 L564.70,372.76 L565.74,376.79 L566.77,380.85 L567.81,384.92 L568.85,389.00 L569.89,393.11 L570.92,397.22 L571.96,401.35 L573.00,405.49 L574.04,409.64 L575.07,413.80 L576.11,417.97 L577.15,422.14 L578.19,426.32 L579.22,430.51 L580.26,434.70 L581.30,438.89 L582.34,443.08 L583.38,447.27 L584.41,451.47 L585.45,455.65 L586.49,459.84 L587.53,464.02 L588.56,468.20 L589.60,472.37 L590.64,476.53 L591.68,480.68 L592.71,484.83 L593.75,488.96 L594.79,493.08 L595.83,497.19 L596.87,501.29 L597.90,505.37 L598.94,509.43 L599.98,513.47 L601.02,517.50 L602.05,521.51 L603.09,525.50 L604.13,529.46 L605.17,533.41 L606.20,537.33 L607.24,541.22 L608.28,545.09 L609.32,548.94 L610.35,552.75 L611.39,556.54 L612.43,560.30 L613.47,564.03 L614.51,567.72 L615.54,571.39 L616.58,575.02 L617.62,578.61 L618.66,582.17 L619.69,585.70 L620.73,589.18 L621.77,592.63 L622.81,596.05 L623.84,599.42 L624.88,602.75 L625.92,606.04 L626.96,609.29 L628.00,612.49 L629.03,615.65 L630.07,618.77 L631.11,621.84 L632.15,624.86 L633.18,627.84 L634.22,630.77 L635.26,633.65 L636.30,636.49 L637.33,639.27 L638.37,642.00 L639.41,644.68 L640.45,647.31 L641.48,649.89 L642.52,652.41 L643.56,654.88 L644.60,657.30 L645.64,659.66 L646.67,661.96 L647.71,664.21 L648.75,666.40 L649.79,668.53 L650.82,670.61 L651.86,672.62 L652.90,674.58 L653.94,676.48 L654.97,678.33 L656.01,680.11 L657.05,681.83 L658.09,683.50 L659.12,685.11 L660.16,686.65 L661.20,688.14 L662.24,689.57 L663.28,690.94 L664.31,692.24 L665.35,693.49 L666.39,694.68 L667.43,695.81 L668.46,696.88 L669.50,697.89 L670.54,698.84 L671.58,699.73 L672.61,700.56 L673.65,701.33 L674.69,702.04 L675.73,702.70 L676.77,703.29 L677.80,703.82 L678.84,704.30 L679.88,704.72 L680.92,705.07 L681.95,705.37 L682.99,705.62 L684.03,705.80 L685.07,705.93 L686.10,706.00 L687.14,706.01 L688.18,705.96 L689.22,705.86 L690.25,705.69 L691.29,705.47 L692.33,705.19 L693.37,704.85 L694.41,704.44 L695.44,703.98 L696.48,703.46 L697.52,702.87 L698.56,702.23 L699.59,701.52 L700.63,700.75 L701.67,699.92 L702.71,699.02 L703.74,698.07 L704.78,697.05 L705.82,695.97 L706.86,694.83 L707.90,693.62 L708.93,692.35 L709.97,691.02 L711.01,689.63 L712.05,688.17 L713.08,686.65 L714.12,685.07 L715.16,683.42 L716.20,681.71 L717.23,679.94 L718.27,678.10 L719.31,676.20 L720.35,674.24 L721.38,672.22 L722.42,670.13 L723.46,667.98 L724.50,665.77 L725.54,663.49 L726.57,661.16 L727.61,658.76 L728.65,656.30 L729.69,653.78 L730.72,651.20 L731.76,648.57 L732.80,645.87 L733.84,643.12 L734.87,640.32 L735.91,637.46 L736.95,634.55 L737.99,631.58 L739.03,628.57 L740.06,625.50 L741.10,622.39 L742.14,619.22 L743.18,616.02 L744.21,612.76 L745.25,609.46 L746.29,606.12 L747.33,602.73 L748.36,599.30 L749.40,595.84 L750.44,592.33 L751.48,588.79 L752.51,585.21 L753.55,581.59 L754.59,577.94 L755.63,574.26 L756.67,570.54 L757.70,566.80 L758.74,563.02 L759.78,559.22 L760.82,555.39 L761.85,551.53 L762.89,547.65 L763.93,543.75 L764.97,539.82 L766.00,535.87 L767.04,531.90 L768.08,527.91 L769.12,523.91 L770.16,519.89 L771.19,515.85 L772.23,511.80 L773.27,507.73 L774.31,503.65 L775.34,499.57 L776.38,495.47 L777.42,491.36 L778.46,487.25 L779.49,483.13 L780.53,479.01 L781.57,474.88 L782.61,470.76 L783.64,466.63 L784.68,462.50 L785.72,458.37 L786.76,454.25 L787.80,450.13 L788.83,446.01 L789.87,441.90 L790.91,437.80 L791.95,433.71 L792.98,429.62 L794.02,425.54 L795.06,421.47 L796.10,417.41 L797.13,413.37 L798.17,409.33 L799.21,405.30 L800.25,401.29 L801.29,397.28 L802.32,393.29 L803.36,389.32 L804.40,385.35 L805.44,381.40 L806.47,377.47 L807.51,373.55 L808.55,369.65 L809.59,365.76 L810.62,361.89 L811.66,358.04 L812.70,354.21 L813.74,350.39 L814.77,346.59 L815.81,342.81 L816.85,339.05 L817.89,335.31 L818.93,331.59 L819.96,327.89 L821.00,324.22 L822.04,320.56 L823.08,316.93 L824.11,313.32 L825.15,309.74 L826.19,306.19 L827.23,302.66 L828.26,299.16 L829.30,295.69 L830.34,292.25 L831.38,288.84 L832.42,285.47 L833.45,282.12 L834.49,278.82 L835.53,275.54 L836.57,272.31 L837.60,269.11 L838.64,265.95 L839.68,262.83 L840.72,259.74 L841.75,256.70 L842.79,253.70 L843.83,250.75 L844.87,247.83 L845.90,244.96 L846.94,242.14 L847.98,239.36 L849.02,236.63 L850.06,233.94 L851.09,231.31 L852.13,228.72 L853.17,226.18 L854.21,223.70 L855.24,221.26 L856.28,218.88 L857.32,216.55 L858.36,214.27 L859.39,212.05 L860.43,209.88 L861.47,207.77 L862.51,205.71 L863.55,203.71 L864.58,201.77 L865.62,199.89 L866.66,198.07 L867.70,196.31 L868.73,194.61 L869.77,192.97 L870.81,191.39 L871.85,189.87 L872.88,188.42 L873.92,187.02 L874.96,185.70 L876.00,184.43 L877.03,183.24 L878.07,182.10 L879.11,181.04 L880.15,180.04 L881.19,179.11 L882.22,178.24 L883.26,177.45 L884.30,176.73 L885.34,176.08 L886.37,175.51 L887.41,175.00 L888.45,174.58 L889.49,174.23 L890.52,173.95 L891.56,173.75 L892.60,173.63 L893.64,173.59 L894.68,173.63 L895.71,173.74 L896.75,173.93 L897.79,174.20 L898.83,174.54 L899.86,174.96 L900.90,175.44 L901.94,176.00 L902.98,176.64 L904.01,177.34 L905.05,178.11 L906.09,178.95 L907.13,179.86 L908.16,180.83 L909.20,181.87 L910.24,182.98 L911.28,184.15 L912.32,185.38 L913.35,186.68 L914.39,188.04 L915.43,189.46 L916.47,190.95 L917.50,192.50 L918.54,194.11 L919.58,195.78 L920.62,197.51 L921.65,199.29 L922.69,201.14 L923.73,203.05 L924.77,205.01 L925.81,207.03 L926.84,209.11 L927.88,211.24 L928.92,213.43 L929.96,215.67 L930.99,217.96 L932.03,220.31 L933.07,222.71 L934.11,225.16 L935.14,227.66 L936.18,230.21 L937.22,232.81 L938.26,235.45 L939.29,238.15 L940.33,240.89 L941.37,243.67 L942.41,246.50 L943.45,249.37 L944.48,252.29 L945.52,255.25 L946.56,258.25 L947.60,261.29 L948.63,264.37 L949.67,267.49 L950.71,270.65 L951.75,273.85 L952.78,277.09 L953.82,280.36 L954.86,283.67 L955.90,287.02 L956.94,290.41 L957.97,293.83 L959.01,297.28 L960.05,300.77 L961.09,304.30 L962.12,307.85 L963.16,311.44 L964.20,315.06 L965.24,318.72 L966.27,322.40 L967.31,326.11 L968.35,329.86 L969.39,333.63 L970.42,337.43 L971.46,341.25 L972.50,345.10 L973.54,348.98 L974.58,352.89 L975.61,356.82 L976.65,360.77 L977.69,364.74 L978.73,368.74 L979.76,372.76 L980.80,376.79 L981.84,380.85 L982.88,384.92 L983.91,389.00 L984.95,393.11 L985.99,397.22 L987.03,401.35 L988.07,405.49 L989.10,409.64 L990.14,413.80 L991.18,417.97 L992.22,422.14 L993.25,426.32 L994.29,430.51 L995.33,434.70 L996.37,438.89 L997.40,443.08 L998.44,447.27 L999.48,451.47 L1000.52,455.65 L1001.55,459.84 L1002.59,464.02 L1003.63,468.20 L1004.67,472.37 L1005.71,476.53 L1006.74,480.68 L1007.78,484.83 L1008.82,488.96 L1009.86,493.08 L1010.89,497.19 L1011.93,501.29 L1012.97,505.37 L1014.01,509.43 L1015.04,513.47 L1016.08,517.50 L1017.12,521.51 L1018.16,525.50 L1019.20,529.46 L1020.23,533.41 L1021.27,537.33 L1022.31,541.22 L1023.35,545.09 L1024.38,548.94 L1025.42,552.75 L1026.46,556.54 L1027.50,560.30 L1028.53,564.03 L1029.57,567.72 L1030.61,571.39 L1031.65,575.02 L1032.68,578.61 L1033.72,582.17 L1034.76,585.70 L1035.80,589.18 L1036.84,592.63 L1037.87,596.05 L1038.91,599.42 L1039.95,602.75 L1040.99,606.04 L1042.02,609.29 L1043.06,612.49 L1044.10,615.65 L1045.14,618.77 L1046.17,621.84 L1047.21,624.86 L1048.25,627.84 L1049.29,630.77 L1050.33,633.65 L1051.36,636.49 L1052.40,639.27 L1053.44,642.00 L1054.48,644.68 L1055.51,647.31 L1056.55,649.89 L1057.59,652.41 L1058.63,654.88 L1059.66,657.30 L1060.70,659.66 L1061.74,661.96 L1062.78,664.21 L1063.82,666.40 L1064.85,668.53 L1065.89,670.61 L1066.93,672.62 L1067.97,674.58 L1069.00,676.48 L1070.04,678.33 L1071.08,680.11 L1072.12,681.83 L1073.15,683.50 L1074.19,685.11 L1075.23,686.65 L1076.27,688.14 L1077.30,689.57 L1078.34,690.94 L1079.38,692.24 L1080.42,693.49 L1081.46,694.68 L1082.49,695.81 L1083.53,696.88 L1084.57,697.89 L1085.61,698.84 L1086.64,699.73 L1087.68,700.56 L1088.72,701.33 L1089.76,702.04 L1090.79,702.70 L1091.83,703.29 L1092.87,703.82 L1093.91,704.30 L1094.95,704.72 L1095.98,705.07 L1097.02,705.37 L1098.06,705.62 L1099.10,705.80 L1100.13,705.93 L1101.17,706.00 L1102.21,706.01 L1103.25,705.96 L1104.28,705.86 L1105.32,705.69 L1106.36,705.47 L1107.40,705.19 L1108.43,704.85 L1109.47,704.44 L1110.51,703.98 L1111.55,703.46 L1112.59,702.87 L1113.62,702.23 L1114.66,701.52 L1115.70,700.75 L1116.74,699.92 L1117.77,699.02 L1118.81,698.07 L1119.85,697.05 L1120.89,695.97 L1121.92,694.83 L1122.96,693.62 L1124.00,692.35 L1125.04,691.02 L1126.08,689.63 L1127.11,688.17 L1128.15,686.65 L1129.19,685.07 L1130.23,683.42 L1131.26,681.71 L1132.30,679.94 L1133.34,678.10 L1134.38,676.20 L1135.41,674.24 L1136.45,672.22 L1137.49,670.13 L1138.53,667.98 L1139.56,665.77 L1140.60,663.49 L1141.64,661.16 L1142.68,658.76 L1143.72,656.30 L1144.75,653.78 L1145.79,651.20 L1146.83,648.57 L1147.87,645.87 L1148.90,643.12 L1149.94,640.32 L1150.98,637.46 L1152.02,634.55 L1153.05,631.58 L1154.09,628.57 L1155.13,625.50 L1156.17,622.39 L1157.20,619.22 L1158.24,616.02 L1159.28,612.76 L1160.32,609.46 L1161.36,606.12 L1162.39,602.73 L1163.43,599.30 L1164.47,595.84 L1165.51,592.33 L1166.54,588.79 L1167.58,585.21 L1168.62,581.59 L1169.66,577.94 L1170.69,574.26 L1171.73,570.54 L1172.77,566.80 L1173.81,563.02 L1174.85,559.22 L1175.88,555.39 L1176.92,551.53 L1177.96,547.65 L1179.00,543.75 L1180.03,539.82 L1181.07,535.87 L1182.11,531.90 L1183.15,527.91 L1184.18,523.91 L1185.22,519.89 L1186.26,515.85 L1187.30,511.80 L1188.34,507.73 L1189.37,503.65 L1190.41,499.57 L1191.45,495.47 L1192.49,491.36 L1193.52,487.25 L1194.56,483.13 L1195.60,479.01 L1196.64,474.88 L1197.67,470.76 L1198.71,466.63 L1199.75,462.50 L1200.79,458.37 L1201.82,454.25 L1202.86,450.13 L1203.90,446.01 L1204.94,441.90 L1205.98,437.80 L1207.01,433.71 L1208.05,429.62 L1209.09,425.54 L1210.13,421.47 L1211.16,417.41 L1212.20,413.37 L1213.24,409.33 L1214.28,405.30 L1215.31,401.29 L1216.35,397.28 L1217.39,393.29 L1218.43,389.32 L1219.47,385.35 L1220.50,381.40 L1221.54,377.47 L1222.58,373.55 L1223.62,369.65 L1224.65,365.76 L1225.69,361.89 L1226.73,358.04 L1227.77,354.21 L1228.80,350.39 L1229.84,346.59 L1230.88,342.81 L1231.92,339.05 L1232.95,335.31 L1233.99,331.59 L1235.03,327.89 L1236.07,324.22 L1237.11,320.56 L1238.14,316.93 L1239.18,313.32 L1240.22,309.74 L1241.26,306.19 L1242.29,302.66 L1243.33,299.16 L1244.37,295.69 L1245.41,292.25 L1246.44,288.84 L1247.48,285.47 L1248.52,282.12 L1249.56,278.82 L1250.60,275.54 L1251.63,272.31 L1252.67,269.11 L1253.71,265.95 L1254.75,262.83 L1255.78,259.74 L1256.82,256.70 L1257.86,253.70 L1258.90,250.75 L1259.93,247.83 L1260.97,244.96 L1262.01,242.14 L1263.05,239.36 L1264.08,236.63 L1265.12,233.94 L1266.16,231.31 L1267.20,228.72 L1268.24,226.18 L1269.27,223.70 L1270.31,221.26 L1271.35,218.88 L1272.39,216.55 L1273.42,214.27 L1274.46,212.05 L1275.50,209.88 L1276.54,207.77 L1277.57,205.71 L1278.61,203.71 L1279.65,201.77 L1280.69,199.89 L1281.72,198.07 L1282.76,196.31 L1283.80,194.61 L1284.84,192.97 L1285.88,191.39 L1286.91,189.87 L1287.95,188.42 L1288.99,187.02 L1290.03,185.70 L1291.06,184.43 L1292.10,183.24 L1293.14,182.10 L1294.18,181.04 L1295.21,180.04 L1296.25,179.11 L1297.29,178.24 L1298.33,177.45 L1299.37,176.73 L1300.40,176.08 L1301.44,175.51 L1302.48,175.00 L1303.52,174.58 L1304.55,174.23 L1305.59,173.95 L1306.63,173.75 L1307.67,173.63 L1308.70,173.59 L1309.74,173.63 L1310.78,173.74 L1311.82,173.93 L1312.86,174.20 L1313.89,174.54 L1314.93,174.96 L1315.97,175.44 L1317.01,176.00 L1318.04,176.64 L1319.08,177.34 L1320.12,178.11 L1321.16,178.95 L1322.19,179.86 L1323.23,180.83 L1324.27,181.87 L1325.31,182.98 L1326.34,184.15 L1327.38,185.38 L1328.42,186.68 L1329.46,188.04 L1330.50,189.46 L1331.53,190.95 L1332.57,192.50 L1333.61,194.11 L1334.65,195.78 L1335.68,197.51 L1336.72,199.29 L1337.76,201.14 L1338.80,203.05 L1339.83,205.01 L1340.87,207.03 L1341.91,209.11 L1342.95,211.24 L1343.98,213.43 L1345.02,215.67 L1346.06,217.96 L1347.10,220.31 L1348.14,222.71 L1349.17,225.16 L1350.21,227.66 L1351.25,230.21 L1352.29,232.81 L1353.32,235.45 L1354.36,238.15 L1355.40,240.89 L1356.44,243.67 L1357.47,246.50 L1358.51,249.37 L1359.55,252.29 L1360.59,255.25 L1361.63,258.25 L1362.66,261.29 L1363.70,264.37 L1364.74,267.49 L1365.78,270.65 L1366.81,273.85 L1367.85,277.09 L1368.89,280.36 L1369.93,283.67 L1370.96,287.02 L1372.00,290.41 L1373.04,293.83 L1374.08,297.28 L1375.12,300.77 L1376.15,304.30 L1377.19,307.85 L1378.23,311.44 L1379.27,315.06 L1380.30,318.72 L1381.34,322.40 L1382.38,326.11 L1383.42,329.86 L1384.45,333.63 L1385.49,337.43 L1386.53,341.25 L1387.57,345.10 L1388.60,348.98 L1389.64,352.89 L1390.68,356.82 L1391.72,360.77 L1392.76,364.74 L1393.79,368.74 L1394.83,372.76 L1395.87,376.79 L1396.91,380.85 L1397.94,384.92 L1398.98,389.00 L1400.02,393.11 L1401.06,397.22 L1402.09,401.35 L1403.13,405.49 L1404.17,409.64 L1405.21,413.80 L1406.24,417.97 L1407.28,422.14 L1408.32,426.32 L1409.36,430.51 L1410.40,434.70 L1411.43,438.89 L1412.47,443.08 L1413.51,447.27 L1414.55,451.47 L1415.58,455.65 L1416.62,459.84 L1417.66,464.02 L1418.70,468.20 L1419.73,472.37 L1420.77,476.53 L1421.81,480.68 L1422.85,484.83 L1423.89,488.96 L1424.92,493.08 L1425.96,497.19 L1427.00,501.29 L1428.04,505.37 L1429.07,509.43 L1430.11,513.47 L1431.15,517.50 L1432.19,521.51 L1433.22,525.50 L1434.26,529.46 L1435.30,533.41 L1436.34,537.33 L1437.38,541.22 L1438.41,545.09 L1439.45,548.94 L1440.49,552.75 L1441.53,556.54 L1442.56,560.30 L1443.60,564.03 L1444.64,567.72 L1445.68,571.39 L1446.71,575.02 L1447.75,578.61 L1448.79,582.17 L1449.83,585.70 L1450.86,589.18 L1451.90,592.63 L1452.94,596.05 L1453.98,599.42 L1455.02,602.75 L1456.05,606.04 L1457.09,609.29 L1458.13,612.49 L1459.17,615.65 L1460.20,618.77 L1461.24,621.84 L1462.28,624.86 L1463.32,627.84 L1464.35,630.77 L1465.39,633.65 L1466.43,636.49 L1467.47,639.27 L1468.51,642.00 L1469.54,644.68 L1470.58,647.31 L1471.62,649.89 L1472.66,652.41 L1473.69,654.88 L1474.73,657.30 L1475.77,659.66 L1476.81,661.96 L1477.84,664.21 L1478.88,666.40 L1479.92,668.53 L1480.96,670.61 L1481.99,672.62 L1483.03,674.58 L1484.07,676.48 L1485.11,678.33 L1486.15,680.11 L1487.18,681.83 L1488.22,683.50 L1489.26,685.11 L1490.30,686.65 L1491.33,688.14 L1492.37,689.57 L1493.41,690.94 L1494.45,692.24 L1495.48,693.49 L1496.52,694.68 L1497.56,695.81 L1498.60,696.88 L1499.63,697.89 L1500.67,698.84 L1501.71,699.73 L1502.75,700.56 L1503.79,701.33 L1504.82,702.04 L1505.86,702.70 L1506.90,703.29 L1507.94,703.82 L1508.97,704.30 L1510.01,704.72 L1511.05,705.07 L1512.09,705.37 L1513.12,705.62 L1514.16,705.80 L1515.20,705.93 L1516.24,706.00 L1517.28,706.01 L1518.31,705.96 L1519.35,705.86 L1520.39,705.69 L1521.43,705.47 L1522.46,705.19 L1523.50,704.85 L1524.54,704.44 L1525.58,703.98 L1526.61,703.46 L1527.65,702.87 L1528.69,702.23 L1529.73,701.52 L1530.77,700.75 L1531.80,699.92 L1532.84,699.02 L1533.88,698.07 L1534.92,697.05 L1535.95,695.97 L1536.99,694.83 L1538.03,693.62 L1539.07,692.35 L1540.10,691.02 L1541.14,689.63 L1542.18,688.17 L1543.22,686.65 L1544.25,685.07 L1545.29,683.42 L1546.33,681.71 L1547.37,679.94 L1548.41,678.10 L1549.44,676.20 L1550.48,674.24 L1551.52,672.22 L1552.56,670.13 L1553.59,667.98 L1554.63,665.77 L1555.67,663.49 L1556.71,661.16 L1557.74,658.76 L1558.78,656.30 L1559.82,653.78 L1560.86,651.20 L1561.89,648.57 L1562.93,645.87 L1563.97,643.12 L1565.01,640.32 L1566.05,637.46 L1567.08,634.55 L1568.12,631.58 L1569.16,628.57 L1570.20,625.50 L1571.23,622.39 L1572.27,619.22 L1573.31,616.02 L1574.35,612.76 L1575.38,609.46 L1576.42,606.12 L1577.46,602.73 L1578.50,599.30 L1579.54,595.84 L1580.57,592.33 L1581.61,588.79 L1582.65,585.21 L1583.69,581.59 L1584.72,577.94 L1585.76,574.26 L1586.80,570.54 L1587.84,566.80 L1588.87,563.02 L1589.91,559.22 L1590.95,555.39 L1591.99,551.53 L1593.03,547.65 L1594.06,543.75 L1595.10,539.82 L1596.14,535.87 L1597.18,531.90 L1598.21,527.91 L1599.25,523.91 L1600.29,519.89 L1601.33,515.85 L1602.36,511.80 L1603.40,507.73 L1604.44,503.65 L1605.48,499.57 L1606.51,495.47 L1607.55,491.36 L1608.59,487.25 L1609.63,483.13 L1610.67,479.01 L1611.70,474.88 L1612.74,470.76 L1613.78,466.63 L1614.82,462.50 L1615.85,458.37 L1616.89,454.25 L1617.93,450.13 L1618.97,446.01 L1620.00,441.90 L1621.04,437.80 L1622.08,433.71 L1623.12,429.62 L1624.15,425.54 L1625.19,421.47 L1626.23,417.41 L1627.27,413.37 L1628.31,409.33 L1629.34,405.30 L1630.38,401.29 L1631.42,397.28 L1632.46,393.29 L1633.49,389.32 L1634.53,385.35 L1635.57,381.40 L1636.61,377.47 L1637.64,373.55 L1638.68,369.65 L1639.72,365.76 L1640.76,361.89 L1641.80,358.04 L1642.83,354.21 L1643.87,350.39 L1644.91,346.59 L1645.95,342.81 L1646.98,339.05 L1648.02,335.31 L1649.06,331.59 L1650.10,327.89 L1651.13,324.22 L1652.17,320.56 L1653.21,316.93 L1654.25,313.32 L1655.29,309.74 L1656.32,306.19 L1657.36,302.66 L1658.40,299.16 L1659.44,295.69 L1660.47,292.25 L1661.51,288.84 L1662.55,285.47 L1663.59,282.12 L1664.62,278.82 L1665.66,275.54 L1666.70,272.31 L1667.74,269.11 L1668.77,265.95 L1669.81,262.83 L1670.85,259.74 L1671.89,256.70 L1672.93,253.70 L1673.96,250.75 L1675.00,247.83 L1676.04,244.96 L1677.08,242.14 L1678.11,239.36 L1679.15,236.63 L1680.19,233.94 L1681.23,231.31 L1682.26,228.72 L1683.30,226.18 L1684.34,223.70 L1685.38,221.26 L1686.41,218.88 L1687.45,216.55 L1688.49,214.27 L1689.53,212.05 L1690.57,209.88 L1691.60,207.77 L1692.64,205.71 L1693.68,203.71 L1694.72,201.77 L1695.75,199.89 L1696.79,198.07 L1697.83,196.31 L1698.87,194.61 L1699.90,192.97 L1700.94,191.39 L1701.98,189.87 L1703.02,188.42 L1704.06,187.02 L1705.09,185.70 L1706.13,184.43 L1707.17,183.24 L1708.21,182.10 L1709.24,181.04 L1710.28,180.04 L1711.32,179.11 L1712.36,178.24 L1713.39,177.45 L1714.43,176.73 L1715.47,176.08 L1716.51,175.51 L1717.55,175.00 L1718.58,174.58 L1719.62,174.23 L1720.66,173.95 L1721.70,173.75 L1722.73,173.63 L1723.77,173.59 L1724.81,173.63 L1725.85,173.74 L1726.88,173.93 L1727.92,174.20 L1728.96,174.54 L1730.00,174.96 L1731.03,175.44 L1732.07,176.00 L1733.11,176.64 L1734.15,177.34 L1735.19,178.11 L1736.22,178.95 L1737.26,179.86 L1738.30,180.83 L1739.34,181.87 L1740.37,182.98 L1741.41,184.15 L1742.45,185.38 L1743.49,186.68 L1744.52,188.04 L1745.56,189.46 L1746.60,190.95 L1747.64,192.50 L1748.67,194.11 L1749.71,195.78 L1750.75,197.51 L1751.79,199.29 L1752.83,201.14 L1753.86,203.05 L1754.90,205.01 L1755.94,207.03 L1756.98,209.11 L1758.01,211.24 L1759.05,213.43 L1760.09,215.67 L1761.13,217.96 L1762.16,220.31 L1763.20,222.71 L1764.24,225.16 L1765.28,227.66 L1766.32,230.21 L1767.35,232.81 L1768.39,235.45 L1769.43,238.15 L1770.47,240.89 L1771.50,243.67 L1772.54,246.50 L1773.58,249.37 L1774.62,252.29 L1775.65,255.25 L1776.69,258.25 L1777.73,261.29 L1778.77,264.37 L1779.81,267.49 L1780.84,270.65 L1781.88,273.85 L1782.92,277.09 L1783.96,280.36 L1784.99,283.67 L1786.03,287.02 L1787.07,290.41 L1788.11,293.83 L1789.14,297.28 L1790.18,300.77 L1791.22,304.30 L1792.26,307.85 L1793.29,311.44 L1794.33,315.06 L1795.37,318.72 L1796.41,322.40 L1797.45,326.11 L1798.48,329.86 L1799.52,333.63 L1800.56,337.43 L1801.60,341.25 L1802.63,345.10 L1803.67,348.98 L1804.71,352.89 L1805.75,356.82 L1806.78,360.77 L1807.82,364.74 L1808.86,368.74 L1809.90,372.76 L1810.93,376.79 L1811.97,380.85 L1813.01,384.92 L1814.05,389.00 L1815.09,393.11 L1816.12,397.22 L1817.16,401.35 L1818.20,405.49 L1819.24,409.64 L1820.27,413.80 L1821.31,417.97 L1822.35,422.14 L1823.39,426.32 L1824.42,430.51 L1825.46,434.70 L1826.50,438.89" stroke="#ff0000" stroke-width="8"/>
<path d="M270.00,697.03 L271.04,696.98 L272.08,696.86 L273.11,696.68 L274.15,696.43 L275.19,696.12 L276.23,695.74 L277.26,695.30 L278.30,694.79 L279.34,694.22 L280.38,693.58 L281.41,692.88 L282.45,692.12 L283.49,691.29 L284.53,690.40 L285.56,689.45 L286.60,688.44 L287.64,687.36 L288.68,686.23 L289.72,685.03 L290.75,683.78 L291.79,682.46 L292.83,681.09 L293.87,679.65 L294.90,678.16 L295.94,676.61 L296.98,675.01 L298.02,673.35 L299.05,671.63 L300.09,669.86 L301.13,668.03 L302.17,666.15 L303.21,664.21 L304.24,662.23 L305.28,660.19 L306.32,658.10 L307.36,655.96 L308.39,653.77 L309.43,651.54 L310.47,649.25 L311.51,646.92 L312.54,644.54 L313.58,642.11 L314.62,639.64 L315.66,637.12 L316.69,634.55 L317.73,631.94 L318.77,629.29 L319.81,626.58 L320.85,623.84 L321.88,621.04 L322.92,618.21 L323.96,615.32 L325.00,612.40 L326.03,609.43 L327.07,606.41 L328.11,603.35 L329.15,600.25 L330.18,597.10 L331.22,593.92 L332.26,590.69 L333.30,587.41 L334.34,584.10 L335.37,580.74 L336.41,577.34 L337.45,573.91 L338.49,570.43 L339.52,566.91 L340.56,563.35 L341.60,559.75 L342.64,556.12 L343.67,552.44 L344.71,548.73 L345.75,544.98 L346.79,541.20 L347.82,537.38 L348.86,533.54 L349.90,529.66 L350.94,525.75 L351.98,521.82 L353.01,517.86 L354.05,513.87 L355.09,509.87 L356.13,505.83 L357.16,501.78 L358.20,497.71 L359.24,493.63 L360.28,489.52 L361.31,485.40 L362.35,481.27 L363.39,477.12 L364.43,472.97 L365.47,468.80 L366.50,464.63 L367.54,460.45 L368.58,456.27 L369.62,452.08 L370.65,447.89 L371.69,443.70 L372.73,439.52 L373.77,435.33 L374.80,431.15 L375.84,426.97 L376.88,422.80 L377.92,418.63 L378.95,414.47 L379.99,410.33 L381.03,406.19 L382.07,402.06 L383.11,397.94 L384.14,393.84 L385.18,389.75 L386.22,385.67 L387.26,381.61 L388.29,377.57 L389.33,373.54 L390.37,369.53 L391.41,365.54 L392.44,361.57 L393.48,357.63 L394.52,353.70 L395.56,349.80 L396.60,345.92 L397.63,342.07 L398.67,338.24 L399.71,334.44 L400.75,330.67 L401.78,326.93 L402.82,323.21 L403.86,319.53 L404.90,315.88 L405.93,312.26 L406.97,308.67 L408.01,305.12 L409.05,301.60 L410.09,298.11 L411.12,294.66 L412.16,291.25 L413.20,287.87 L414.24,284.53 L415.27,281.23 L416.31,277.96 L417.35,274.74 L418.39,271.55 L419.42,268.41 L420.46,265.30 L421.50,262.24 L422.54,259.22 L423.57,256.24 L424.61,253.30 L425.65,250.40 L426.69,247.55 L427.73,244.74 L428.76,241.98 L429.80,239.26 L430.84,236.59 L431.88,233.96 L432.91,231.38 L433.95,228.85 L434.99,226.36 L436.03,223.92 L437.06,221.53 L438.10,219.18 L439.14,216.89 L440.18,214.64 L441.22,212.44 L442.25,210.29 L443.29,208.19 L444.33,206.14 L445.37,204.15 L446.40,202.20 L447.44,200.31 L448.48,198.46 L449.52,196.67 L450.55,194.94 L451.59,193.25 L452.63,191.62 L453.67,190.04 L454.70,188.51 L455.74,187.04 L456.78,185.63 L457.82,184.26 L458.86,182.95 L459.89,181.70 L460.93,180.50 L461.97,179.35 L463.01,178.26 L464.04,177.22 L465.08,176.24 L466.12,175.32 L467.16,174.45 L468.19,173.64 L469.23,172.90 L470.27,172.22 L471.31,171.60 L472.35,171.05 L473.38,170.57 L474.42,170.16 L475.46,169.82 L476.50,169.55 L477.53,169.36 L478.57,169.24 L479.61,169.20 L480.65,169.24 L481.68,169.35 L482.72,169.53 L483.76,169.79 L484.80,170.13 L485.83,170.54 L486.87,171.02 L487.91,171.58 L488.95,172.22 L489.99,172.93 L491.02,173.71 L492.06,174.56 L493.10,175.49 L494.14,176.49 L495.17,177.57 L496.21,178.71 L497.25,179.93 L498.29,181.22 L499.32,182.58 L500.36,184.00 L501.40,185.50 L502.44,187.07 L503.48,188.71 L504.51,190.41 L505.55,192.18 L506.59,194.02 L507.63,195.93 L508.66,197.90 L509.70,199.93 L510.74,202.03 L511.78,204.20 L512.81,206.43 L513.85,208.71 L514.89,211.06 L515.93,213.47 L516.96,215.94 L518.00,218.46 L519.04,221.04 L520.08,223.67 L521.12,226.36 L522.15,229.09 L523.19,231.88 L524.23,234.72 L525.27,237.60 L526.30,240.53 L527.34,243.50 L528.38,246.52 L529.42,249.58 L530.45,252.68 L531.49,255.82 L532.53,259.00 L533.57,262.21 L534.61,265.46 L535.64,268.75 L536.68,272.06 L537.72,275.41 L538.76,278.79 L539.79,282.20 L540.83,285.65 L541.87,289.12 L542.91,292.63 L543.94,296.16 L544.98,299.73 L546.02,303.32 L547.06,306.94 L548.09,310.59 L549.13,314.27 L550.17,317.98 L551.21,321.71 L552.25,325.46 L553.28,329.24 L554.32,333.05 L555.36,336.88 L556.40,340.73 L557.43,344.61 L558.47,348.51 L559.51,352.43 L560.55,356.37 L561.58,360.33 L562.62,364.31 L563.66,368.31 L564.70,372.33 L565.74,376.36 L566.77,380.40 L567.81,384.45 L568.85,388.52 L569.89,392.59 L570.92,396.67 L571.96,400.76 L573.00,404.85 L574.04,408.94 L575.07,413.04 L576.11,417.13 L577.15,421.23 L578.19,425.32 L579.22,429.40 L580.26,433.48 L581.30,437.55 L582.34,441.62 L583.38,445.67 L584.41,449.72 L585.45,453.75 L586.49,457.77 L587.53,461.78 L588.56,465.78 L589.60,469.77 L590.64,473.75 L591.68,477.71 L592.71,481.66 L593.75,485.60 L594.79,489.52 L595.83,493.43 L596.87,497.33 L597.90,501.20 L598.94,505.07 L599.98,508.91 L601.02,512.75 L602.05,516.56 L603.09,520.36 L604.13,524.14 L605.17,527.90 L606.20,531.64 L607.24,535.37 L608.28,539.08 L609.32,542.77 L610.35,546.43 L611.39,550.08 L612.43,553.71 L613.47,557.32 L614.51,560.91 L615.54,564.47 L616.58,568.01 L617.62,571.52 L618.66,575.01 L619.69,578.47 L620.73,581.89 L621.77,585.29 L622.81,588.65 L623.84,591.98 L624.88,595.27 L625.92,598.52 L626.96,601.74 L628.00,604.91 L629.03,608.05 L630.07,611.14 L631.11,614.19 L632.15,617.19 L633.18,620.15 L634.22,623.06 L635.26,625.92 L636.30,628.73 L637.33,631.49 L638.37,634.20 L639.41,636.87 L640.45,639.48 L641.48,642.04 L642.52,644.54 L643.56,647.00 L644.60,649.40 L645.64,651.74 L646.67,654.04 L647.71,656.27 L648.75,658.45 L649.79,660.58 L650.82,662.65 L651.86,664.66 L652.90,666.62 L653.94,668.52 L654.97,670.36 L656.01,672.15 L657.05,673.87 L658.09,675.54 L659.12,677.14 L660.16,678.69 L661.20,680.18 L662.24,681.61 L663.28,682.97 L664.31,684.28 L665.35,685.52 L666.39,686.70 L667.43,687.82 L668.46,688.88 L669.50,689.87 L670.54,690.80 L671.58,691.67 L672.61,692.47 L673.65,693.21 L674.69,693.89 L675.73,694.49 L676.77,695.04 L677.80,695.52 L678.84,695.93 L679.88,696.28 L680.92,696.56 L681.95,696.78 L682.99,696.92 L684.03,697.01 L685.07,697.03 L686.10,696.98 L687.14,696.86 L688.18,696.68 L689.22,696.43 L690.25,696.12 L691.29,695.74 L692.33,695.30 L693.37,694.79 L694.41,694.22 L695.44,693.58 L696.48,692.88 L697.52,692.12 L698.56,691.29 L699.59,690.40 L700.63,689.45 L701.67,688.44 L702.71,687.36 L703.74,686.23 L704.78,685.03 L705.82,683.78 L706.86,682.46 L707.90,681.09 L708.93,679.65 L709.97,678.16 L711.01,676.61 L712.05,675.01 L713.08,673.35 L714.12,671.63 L715.16,669.86 L716.20,668.03 L717.23,666.15 L718.27,664.21 L719.31,662.23 L720.35,660.19 L721.38,658.10 L722.42,655.96 L723.46,653.77 L724.50,651.54 L725.54,649.25 L726.57,646.92 L727.61,644.54 L728.65,642.11 L729.69,639.64 L730.72,637.12 L731.76,634.55 L732.80,631.94 L733.84,629.29 L734.87,626.58 L735.91,623.84 L736.95,621.04 L737.99,618.21 L739.03,615.32 L740.06,612.40 L741.10,609.43 L742.14,606.41 L743.18,603.35 L744.21,600.25 L745.25,597.10 L746.29,593.92 L747.33,590.69 L748.36,587.41 L749.40,584.10 L750.44,580.74 L751.48,577.34 L752.51,573.91 L753.55,570.43 L754.59,566.91 L755.63,563.35 L756.67,559.75 L757.70,556.12 L758.74,552.44 L759.78,548.73 L760.82,544.98 L761.85,541.20 L762.89,537.38 L763.93,533.54 L764.97,529.66 L766.00,525.75 L767.04,521.82 L768.08,517.86 L769.12,513.87 L770.16,509.87 L771.19,505.83 L772.23,501.78 L773.27,497.71 L774.31,493.63 L775.34,489.52 L776.38,485.40 L777.42,481.27 L778.46,477.12 L779.49,472.97 L780.53,468.80 L781.57,464.63 L782.61,460.45 L783.64,456.27 L784.68,452.08 L785.72,447.89 L786.76,443.70 L787.80,439.52 L788.83,435.33 L789.87,431.15 L790.91,426.97 L791.95,422.80 L792.98,418.63 L794.02,414.47 L795.06,410.33 L796.10,406.19 L797.13,402.06 L798.17,397.94 L799.21,393.84 L800.25,389.75 L801.29,385.67 L802.32,381.61 L803.36,377.57 L804.40,373.54 L805.44,369.53 L806.47,365.54 L807.51,361.57 L808.55,357.63 L809.59,353.70 L810.62,349.80 L811.66,345.92 L812.70,342.07 L813.74,338.24 L814.77,334.44 L815.81,330.67 L816.85,326.93 L817.89,323.21 L818.93,319.53 L819.96,315.88 L821.00,312.26 L822.04,308.67 L823.08,305.12 L824.11,301.60 L825.15,298.11 L826.19,294.66 L827.23,291.25 L828.26,287.87 L829.30,284.53 L830.34,281.23 L831.38,277.96 L832.42,274.74 L833.45,271.55 L834.49,268.41 L835.53,265.30 L836.57,262.24 L837.60,259.22 L838.64,256.24 L839.68,253.30 L840.72,250.40 L841.75,247.55 L842.79,244.74 L843.83,241.98 L844.87,239.26 L845.90,236.59 L846.94,233.96 L847.98,231.38 L849.02,228.85 L850.06,226.36 L851.09,223.92 L852.13,221.53 L853.17,219.18 L854.21,216.89 L855.24,214.64 L856.28,212.44 L857.32,210.29 L858.36,208.19 L859.39,206.14 L860.43,204.15 L861.47,202.20 L862.51,200.31 L863.55,198.46 L864.58,196.67 L865.62,194.94 L866.66,193.25 L867.70,191.62 L868.73,190.04 L869.77,188.51 L870.81,187.04 L871.85,185.63 L872.88,184.26 L873.92,182.95 L874.96,181.70 L876.00,180.50 L877.03,179.35 L878.07,178.26 L879.11,177.22 L880.15,176.24 L881.19,175.32 L882.22,174.45 L883.26,173.64 L884.30,172.90 L885.34,172.22 L886.37,171.60 L887.41,171.05 L888.45,170.57 L889.49,170.16 L890.52,169.82 L891.56,169.55 L892.60,169.36 L893.64,169.24 L894.68,169.20 L895.71,169.24 L896.75,169.35 L897.79,169.53 L898.83,169.79 L899.86,170.13 L900.90,170.54 L901.94,171.02 L902.98,171.58 L904.01,172.22 L905.05,172.93 L906.09,173.71 L907.13,174.56 L908.16,175.49 L909.20,176.49 L910.24,177.57 L911.28,178.71 L912.32,179.93 L913.35,181.22 L914.39,182.58 L915.43,184.00 L916.47,185.50 L917.50,187.07 L918.54,188.71 L919.58,190.41 L920.62,192.18 L921.65,194.02 L922.69,195.93 L923.73,197.90 L924.77,199.93 L925.81,202.03 L926.84,204.20 L927.88,206.43 L928.92,208.71 L929.96,211.06 L930.99,213.47 L932.03,215.94 L933.07,218.46 L934.11,221.04 L935.14,223.67 L936.18,226.36 L937.22,229.09 L938.26,231.88 L939.29,234.72 L940.33,237.60 L941.37,240.53 L942.41,243.50 L943.45,246.52 L944.48,249.58 L945.52,252.68 L946.56,255.82 L947.60,259.00 L948.63,262.21 L949.67,265.46 L950.71,268.75 L951.75,272.06 L952.78,275.41 L953.82,278.79 L954.86,282.20 L955.90,285.65 L956.94,289.12 L957.97,292.63 L959.01,296.16 L960.05,299.73 L961.09,303.32 L962.12,306.94 L963.16,310.59 L964.20,314.27 L965.24,317.98 L966.27,321.71 L967.31,325.46 L968.35,329.24 L969.39,333.05 L970.42,336.88 L971.46,340.73 L972.50,344.61 L973.54,348.51 L974.58,352.43 L975.61,356.37 L976.65,360.33 L977.69,364.31 L978.73,368.31 L979.76,372.33 L980.80,376.36 L981.84,380.40 L982.88,384.45 L983.91,388.52 L984.95,392.59 L985.99,396.67 L987.03,400.76 L988.07,404.85 L989.10,408.94 L990.14,413.04 L991.18,417.13 L992.22,421.23 L993.25,425.32 L994.29,429.40 L995.33,433.48 L996.37,437.55 L997.40,441.62 L998.44,445.67 L999.48,449.72 L1000.52,453.75 L1001.55,457.77 L1002.59,461.78 L1003.63,465.78 L1004.67,469.77 L1005.71,473.75 L1006.74,477.71 L1007.78,481.66 L1008.82,485.60 L1009.86,489.52 L1010.89,493.43 L1011.93,497.33 L1012.97,501.20 L1014.01,505.07 L1015.04,508.91 L1016.08,512.75 L1017.12,516.56 L1018.16,520.36 L1019.20,524.14 L1020.23,527.90 L1021.27,531.64 L1022.31,535.37 L1023.35,539.08 L1024.38,542.77 L1025.42,546.43 L1026.46,550.08 L1027.50,553.71 L1028.53,557.32 L1029.57,560.91 L1030.61,564.47 L1031.65,568.01 L1032.68,571.52 L1033.72,575.01 L1034.76,578.47 L1035.80,581.89 L1036.84,585.29 L1037.87,588.65 L1038.91,591.98 L1039.95,595.27 L1040.99,598.52 L1042.02,601.74 L1043.06,604.91 L1044.10,608.05 L1045.14,611.14 L1046.17,614.19 L1047.21,617.19 L1048.25,620.15 L1049.29,623.06 L1050.33,625.92 L1051.36,628.73 L1052.40,631.49 L1053.44,634.20 L1054.48,636.87 L1055.51,639.48 L1056.55,642.04 L1057.59,644.54 L1058.63,647.00 L1059.66,649.40 L1060.70,651.74 L1061.74,654.04 L1062.78,656.27 L1063.82,658.45 L1064.85,660.58 L1065.89,662.65 L1066.93,664.66 L1067.97,666.62 L1069.00,668.52 L1070.04,670.36 L1071.08,672.15 L1072.12,673.87 L1073.15,675.54 L1074.19,677.14 L1075.23,678.69 L1076.27,680.18 L1077.30,681.61 L1078.34,682.97 L1079.38,684.28 L1080.42,685.52 L1081.46,686.70 L1082.49,687.82 L1083.53,688.88 L1084.57,689.87 L1085.61,690.80 L1086.64,691.67 L1087.68,692.47 L1088.72,693.21 L1089.76,693.89 L1090.79,694.49 L1091.83,695.04 L1092.87,695.52 L1093.91,695.93 L1094.95,696.28 L1095.98,696.56 L1097.02,696.78 L1098.06,696.92 L1099.10,697.01 L1100.13,697.03 L1101.17,696.98 L1102.21,696.86 L1103.25,696.68 L1104.28,696.43 L1105.32,696.12 L1106.36,695.74 L1107.40,695.30 L1108.43,694.79 L1109.47,694.22 L1110.51,693.58 L1111.55,692.88 L1112.59,692.12 L1113.62,691.29 L1114.66,690.40 L1115.70,689.45 L1116.74,688.44 L1117.77,687.36 L1118.81,686.23 L1119.85,685.03 L1120.89,683.78 L1121.92,682.46 L1122.96,681.09 L1124.00,679.65 L1125.04,678.16 L1126.08,676.61 L1127.11,675.01 L1128.15,673.35 L1129.19,671.63 L1130.23,669.86 L1131.26,668.03 L1132.30,666.15 L1133.34,664.21 L1134.38,662.23 L1135.41,660.19 L1136.45,658.10 L1137.49,655.96 L1138.53,653.77 L1139.56,651.54 L1140.60,649.25 L1141.64,646.92 L1142.68,644.54 L1143.72,642.11 L1144.75,639.64 L1145.79,637.12 L1146.83,634.55 L1147.87,631.94 L1148.90,629.29 L1149.94,626.58 L1150.98,623.84 L1152.02,621.04 L1153.05,618.21 L1154.09,615.32 L1155.13,612.40 L1156.17,609.43 L1157.20,606.41 L1158.24,603.35 L1159.28,600.25 L1160.32,597.10 L1161.36,593.92 L1162.39,590.69 L1163.43,587.41 L1164.47,584.10 L1165.51,580.74 L1166.54,577.34 L1167.58,573.91 L1168.62,570.43 L1169.66,566.91 L1170.69,563.35 L1171.73,559.75 L1172.77,556.12 L1173.81,552.44 L1174.85,548.73 L1175.88,544.98 L1176.92,541.20 L1177.96,537.38 L1179.00,533.54 L1180.03,529.66 L1181.07,525.75 L1182.11,521.82 L1183.15,517.86 L1184.18,513.87 L1185.22,509.87 L1186.26,505.83 L1187.30,501.78 L1188.34,497.71 L1189.37,493.63 L1190.41,489.52 L1191.45,485.40 L1192.49,481.27 L1193.52,477.12 L1194.56,472.97 L1195.60,468.80 L1196.64,464.63 L1197.67,460.45 L1198.71,456.27 L1199.75,452.08 L1200.79,447.89 L1201.82,443.70 L1202.86,439.52 L1203.90,435.33 L1204.94,431.15 L1205.98,426.97 L1207.01,422.80 L1208.05,418.63 L1209.09,414.47 L1210.13,410.33 L1211.16,406.19 L1212.20,402.06 L1213.24,397.94 L1214.28,393.84 L1215.31,389.75 L1216.35,385.67 L1217.39,381.61 L1218.43,377.57 L1219.47,373.54 L1220.50,369.53 L1221.54,365.54 L1222.58,361.57 L1223.62,357.63 L1224.65,353.70 L1225.69,349.80 L1226.73,345.92 L1227.77,342.07 L1228.80,338.24 L1229.84,334.44 L1230.88,330.67 L1231.92,326.93 L1232.95,323.21 L1233.99,319.53 L1235.03,315.88 L1236.07,312.26 L1237.11,308.67 L1238.14,305.12 L1239.18,301.60 L1240.22,298.11 L1241.26,294.66 L1242.29,291.25 L1243.33,287.87 L1244.37,284.53 L1245.41,281.23 L1246.44,277.96 L1247.48,274.74 L1248.52,271.55 L1249.56,268.41 L1250.60,265.30 L1251.63,262.24 L1252.67,259.22 L1253.71,256.24 L1254.75,253.30 L1255.78,250.40 L1256.82,247.55 L1257.86,244.74 L1258.90,241.98 L1259.93,239.26 L1260.97,236.59 L1262.01,233.96 L1263.05,231.38 L1264.08,228.85 L1265.12,226.36 L1266.16,223.92 L1267.20,221.53 L1268.24,219.18 L1269.27,216.89 L1270.31,214.64 L1271.35,212.44 L1272.39,210.29 L1273.42,208.19 L1274.46,206.14 L1275.50,204.15 L1276.54,202.20 L1277.57,200.31 L1278.61,198.46 L1279.65,196.67 L1280.69,194.94 L1281.72,193.25 L1282.76,191.62 L1283.80,190.04 L1284.84,188.51 L1285.88,187.04 L1286.91,185.63 L1287.95,184.26 L1288.99,182.95 L1290.03,181.70 L1291.06,180.50 L1292.10,179.35 L1293.14,178.26 L1294.18,177.22 L1295.21,176.24 L1296.25,175.32 L1297.29,174.45 L1298.33,173.64 L1299.37,172.90 L1300.40,172.22 L1301.44,171.60 L1302.48,171.05 L1303.52,170.57 L1304.55,170.16 L1305.59,169.82 L1306.63,169.55 L1307.67,169.36 L1308.70,169.24 L1309.74,169.20 L1310.78,169.24 L1311.82,169.35 L1312.86,169.53 L1313.89,169.79 L1314.93,170.13 L1315.97,170.54 L1317.01,171.02 L1318.04,171.58 L1319.08,172.22 L1320.12,172.93 L1321.16,173.71 L1322.19,174.56 L1323.23,175.49 L1324.27,176.49 L1325.31,177.57 L1326.34,178.71 L1327.38,179.93 L1328.42,181.22 L1329.46,182.58 L1330.50,184.00 L1331.53,185.50 L1332.57,187.07 L1333.61,188.71 L1334.65,190.41 L1335.68,192.18 L1336.72,194.02 L1337.76,195.93 L1338.80,197.90 L1339.83,199.93 L1340.87,202.03 L1341.91,204.20 L1342.95,206.43 L1343.98,208.71 L1345.02,211.06 L1346.06,213.47 L1347.10,215.94 L1348.14,218.46 L1349.17,221.04 L1350.21,223.67 L1351.25,226.36 L1352.29,229.09 L1353.32,231.88 L1354.36,234.72 L1355.40,237.60 L1356.44,240.53 L1357.47,243.50 L1358.51,246.52 L1359.55,249.58 L1360.59,252.68 L1361.63,255.82 L1362.66,259.00 L1363.70,262.21 L1364.74,265.46 L1365.78,268.75 L1366.81,272.06 L1367.85,275.41 L1368.89,278.79 L1369.93,282.20 L1370.96,285.65 L1372.00,289.12 L1373.04,292.63 L1374.08,296.16 L1375.12,299.73 L1376.15,303.32 L1377.19,306.94 L1378.23,310.59 L1379.27,314.27 L1380.30,317.98 L1381.34,321.71 L1382.38,325.46 L1383.42,329.24 L1384.45,333.05 L1385.49,336.88 L1386.53,340.73 L1387.57,344.61 L1388.60,348.51 L1389.64,352.43 L1390.68,356.37 L1391.72,360.33 L1392.76,364.31 L1393.79,368.31 L1394.83,372.33 L1395.87,376.36 L1396.91,380.40 L1397.94,384.45 L1398.98,388.52 L1400.02,392.59 L1401.06,396.67 L1402.09,400.76 L1403.13,404.85 L1404.17,408.94 L1405.21,413.04 L1406.24,417.13 L1407.28,421.23 L1408.32,425.32 L1409.36,429.40 L1410.40,433.48 L1411.43,437.55 L1412.47,441.62 L1413.51,445.67 L1414.55,449.72 L1415.58,453.75 L1416.62,457.77 L1417.66,461.78 L1418.70,465.78 L1419.73,469.77 L1420.77,473.75 L1421.81,477.71 L1422.85,481.66 L1423.89,485.60 L1424.92,489.52 L1425.96,493.43 L1427.00,497.33 L1428.04,501.20 L1429.07,505.07 L1430.11,508.91 L1431.15,512.75 L1432.19,516.56 L1433.22,520.36 L1434.26,524.14 L1435.30,527.90 L1436.34,531.64 L1437.38,535.37 L1438.41,539.08 L1439.45,542.77 L1440.49,546.43 L1441.53,550.08 L1442.56,553.71 L1443.60,557.32 L1444.64,560.91 L1445.68,564.47 L1446.71,568.01 L1447.75,571.52 L1448.79,575.01 L1449.83,578.47 L1450.86,581.89 L1451.90,585.29 L1452.94,588.65 L1453.98,591.98 L1455.02,595.27 L1456.05,598.52 L1457.09,601.74 L1458.13,604.91 L1459.17,608.05 L1460.20,611.14 L1461.24,614.19 L1462.28,617.19 L1463.32,620.15 L1464.35,623.06 L1465.39,625.92 L1466.43,628.73 L1467.47,631.49 L1468.51,634.20 L1469.54,636.87 L1470.58,639.48 L1471.62,642.04 L1472.66,644.54 L1473.69,647.00 L1474.73,649.40 L1475.77,651.74 L1476.81,654.04 L1477.84,656.27 L1478.88,658.45 L1479.92,660.58 L1480.96,662.65 L1481.99,664.66 L1483.03,666.62 L1484.07,668.52 L1485.11,670.36 L1486.15,672.15 L1487.18,673.87 L1488.22,675.54 L1489.26,677.14 L1490.30,678.69 L1491.33,680.18 L1492.37,681.61 L1493.41,682.97 L1494.45,684.28 L1495.48,685.52 L1496.52,686.70 L1497.56,687.82 L1498.60,688.88 L1499.63,689.87 L1500.67,690.80 L1501.71,691.67 L1502.75,692.47 L1503.79,693.21 L1504.82,693.89 L1505.86,694.49 L1506.90,695.04 L1507.94,695.52 L1508.97,695.93 L1510.01,696.28 L1511.05,696.56 L1512.09,696.78 L1513.12,696.92 L1514.16,697.01 L1515.20,697.03 L1516.24,696.98 L1517.28,696.86 L1518.31,696.68 L1519.35,696.43 L1520.39,696.12 L1521.43,695.74 L1522.46,695.30 L1523.50,694.79 L1524.54,694.22 L1525.58,693.58 L1526.61,692.88 L1527.65,692.12 L1528.69,691.29 L1529.73,690.40 L1530.77,689.45 L1531.80,688.44 L1532.84,687.36 L1533.88,686.23 L1534.92,685.03 L1535.95,683.78 L1536.99,682.46 L1538.03,681.09 L1539.07,679.65 L1540.10,678.16 L1541.14,676.61 L1542.18,675.01 L1543.22,673.35 L1544.25,671.63 L1545.29,669.86 L1546.33,668.03 L1547.37,666.15 L1548.41,664.21 L1549.44,662.23 L1550.48,660.19 L1551.52,658.10 L1552.56,655.96 L1553.59,653.77 L1554.63,651.54 L1555.67,649.25 L1556.71,646.92 L1557.74,644.54 L1558.78,642.11 L1559.82,639.64 L1560.86,637.12 L1561.89,634.55 L1562.93,631.94 L1563.97,629.29 L1565.01,626.58 L1566.05,623.84 L1567.08,621.04 L1568.12,618.21 L1569.16,615.32 L1570.20,612.40 L1571.23,609.43 L1572.27,606.41 L1573.31,603.35 L1574.35,600.25 L1575.38,597.10 L1576.42,593.92 L1577.46,590.69 L1578.50,587.41 L1579.54,584.10 L1580.57,580.74 L1581.61,577.34 L1582.65,573.91 L1583.69,570.43 L1584.72,566.91 L1585.76,563.35 L1586.80,559.75 L1587.84,556.12 L1588.87,552.44 L1589.91,548.73 L1590.95,544.98 L1591.99,541.20 L1593.03,537.38 L1594.06,533.54 L1595.10,529.66 L1596.14,525.75 L1597.18,521.82 L1598.21,517.86 L1599.25,513.87 L1600.29,509.87 L1601.33,505.83 L1602.36,501.78 L1603.40,497.71 L1604.44,493.63 L1605.48,489.52 L1606.51,485.40 L1607.55,481.27 L1608.59,477.12 L1609.63,472.97 L1610.67,468.80 L1611.70,464.63 L1612.74,460.45 L1613.78,456.27 L1614.82,452.08 L1615.85,447.89 L1616.89,443.70 L1617.93,439.52 L1618.97,435.33 L1620.00,431.15 L1621.04,426.97 L1622.08,422.80 L1623.12,418.63 L1624.15,414.47 L1625.19,410.33 L1626.23,406.19 L1627.27,402.06 L1628.31,397.94 L1629.34,393.84 L1630.38,389.75 L1631.42,385.67 L1632.46,381.61 L1633.49,377.57 L1634.53,373.54 L1635.57,369.53 L1636.61,365.54 L1637.64,361.57 L1638.68,357.63 L1639.72,353.70 L1640.76,349.80 L1641.80,345.92 L1642.83,342.07 L1643.87,338.24 L1644.91,334.44 L1645.95,330.67 L1646.98,326.93 L1648.02,323.21 L1649.06,319.53 L1650.10,315.88 L1651.13,312.26 L1652.17,308.67 L1653.21,305.12 L1654.25,301.60 L1655.29,298.11 L1656.32,294.66 L1657.36,291.25 L1658.40,287.87 L1659.44,284.53 L1660.47,281.23 L1661.51,277.96 L1662.55,274.74 L1663.59,271.55 L1664.62,268.41 L1665.66,265.30 L1666.70,262.24 L1667.74,259.22 L1668.77,256.24 L1669.81,253.30 L1670.85,250.40 L1671.89,247.55 L1672.93,244.74 L1673.96,241.98 L1675.00,239.26 L1676.04,236.59 L1677.08,233.96 L1678.11,231.38 L1679.15,228.85 L1680.19,226.36 L1681.23,223.92 L1682.26,221.53 L1683.30,219.18 L1684.34,216.89 L1685.38,214.64 L1686.41,212.44 L1687.45,210.29 L1688.49,208.19 L1689.53,206.14 L1690.57,204.15 L1691.60,202.20 L1692.64,200.31 L1693.68,198.46 L1694.72,196.67 L1695.75,194.94 L1696.79,193.25 L1697.83,191.62 L1698.87,190.04 L1699.90,188.51 L1700.94,187.04 L1701.98,185.63 L1703.02,184.26 L1704.06,182.95 L1705.09,181.70 L1706.13,180.50 L1707.17,179.35 L1708.21,178.26 L1709.24,177.22 L1710.28,176.24 L1711.32,175.32 L1712.36,174.45 L1713.39,173.64 L1714.43,172.90 L1715.47,172.22 L1716.51,171.60 L1717.55,171.05 L1718.58,170.57 L1719.62,170.16 L1720.66,169.82 L1721.70,169.55 L1722.73,169.36 L1723.77,169.24 L1724.81,169.20 L1725.85,169.24 L1726.88,169.35 L1727.92,169.53 L1728.96,169.79 L1730.00,170.13 L1731.03,170.54 L1732.07,171.02 L1733.11,171.58 L1734.15,172.22 L1735.19,172.93 L1736.22,173.71 L1737.26,174.56 L1738.30,175.49 L1739.34,176.49 L1740.37,177.57 L1741.41,178.71 L1742.45,179.93 L1743.49,181.22 L1744.52,182.58 L1745.56,184.00 L1746.60,185.50 L1747.64,187.07 L1748.67,188.71 L1749.71,190.41 L1750.75,192.18 L1751.79,194.02 L1752.83,195.93 L1753.86,197.90 L1754.90,199.93 L1755.94,202.03 L1756.98,204.20 L1758.01,206.43 L1759.05,208.71 L1760.09,211.06 L1761.13,213.47 L1762.16,215.94 L1763.20,218.46 L1764.24,221.04 L1765.28,223.67 L1766.32,226.36 L1767.35,229.09 L1768.39,231.88 L1769.43,234.72 L1770.47,237.60 L1771.50,240.53 L1772.54,243.50 L1773.58,246.52 L1774.62,249.58 L1775.65,252.68 L1776.69,255.82 L1777.73,259.00 L1778.77,262.21 L1779.81,265.46 L1780.84,268.75 L1781.88,272.06 L1782.92,275.41 L1783.96,278.79 L1784.99,282.20 L1786.03,285.65 L1787.07,289.12 L1788.11,292.63 L1789.14,296.16 L1790.18,299.73 L1791.22,303.32 L1792.26,306.94 L1793.29,310.59 L1794.33,314.27 L1795.37,317.98 L1796.41,321.71 L1797.45,325.46 L1798.48,329.24 L1799.52,333.05 L1800.56,336.88 L1801.60,340.73 L1802.63,344.61 L1803.67,348.51 L1804.71,352.43 L1805.75,356.37 L1806.78,360.33 L1807.82,364.31 L1808.86,368.31 L1809.90,372.33 L1810.93,376.36 L1811.97,380.40 L1813.01,384.45 L1814.05,388.52 L1815.09,392.59 L1816.12,396.67 L1817.16,400.76 L1818.20,404.85 L1819.24,408.94 L1820.27,413.04 L1821.31,417.13 L1822.35,421.23 L1823.39,425.32 L1824.42,429.40 L1825.46,433.48 L1826.50,437.55" stroke="#0d4a13" stroke-width="8" stroke-dasharray="43.96 14.985 10.99 14.985" stroke-dashoffset="0"/>
<path d="M270.00,709.49 L271.04,709.32 L272.08,709.09 L273.11,708.78 L274.15,708.41 L275.19,707.98 L276.23,707.48 L277.26,706.91 L278.30,706.28 L279.34,705.58 L280.38,704.83 L281.41,704.01 L282.45,703.13 L283.49,702.19 L284.53,701.19 L285.56,700.13 L286.60,699.01 L287.64,697.84 L288.68,696.61 L289.72,695.32 L290.75,693.98 L291.79,692.58 L292.83,691.14 L293.87,689.64 L294.90,688.09 L295.94,686.49 L296.98,684.84 L298.02,683.15 L299.05,681.41 L300.09,679.63 L301.13,677.81 L302.17,675.96 L303.21,674.07 L304.24,672.15 L305.28,670.20 L306.32,668.22 L307.36,666.22 L308.39,664.18 L309.43,662.10 L310.47,660.00 L311.51,657.87 L312.54,655.73 L313.58,653.56 L314.62,651.37 L315.66,649.15 L316.69,646.91 L317.73,644.65 L318.77,642.37 L319.81,640.06 L320.85,637.72 L321.88,635.36 L322.92,632.97 L323.96,630.55 L325.00,628.11 L326.03,625.64 L327.07,623.14 L328.11,620.61 L329.15,618.05 L330.18,615.46 L331.22,612.82 L332.26,610.15 L333.30,607.44 L334.34,604.68 L335.37,601.88 L336.41,599.04 L337.45,596.16 L338.49,593.24 L339.52,590.28 L340.56,587.27 L341.60,584.23 L342.64,581.14 L343.67,578.01 L344.71,574.84 L345.75,571.63 L346.79,568.38 L347.82,565.09 L348.86,561.76 L349.90,558.38 L350.94,554.97 L351.98,551.52 L353.01,548.03 L354.05,544.50 L355.09,540.93 L356.13,537.33 L357.16,533.70 L358.20,530.03 L359.24,526.33 L360.28,522.60 L361.31,518.85 L362.35,515.07 L363.39,511.27 L364.43,507.45 L365.47,503.61 L366.50,499.75 L367.54,495.88 L368.58,492.00 L369.62,488.10 L370.65,484.20 L371.69,480.29 L372.73,476.37 L373.77,472.45 L374.80,468.52 L375.84,464.60 L376.88,460.68 L377.92,456.76 L378.95,452.85 L379.99,448.94 L381.03,445.04 L382.07,441.15 L383.11,437.27 L384.14,433.40 L385.18,429.55 L386.22,425.71 L387.26,421.88 L388.29,418.07 L389.33,414.29 L390.37,410.52 L391.41,406.77 L392.44,403.05 L393.48,399.35 L394.52,395.68 L395.56,392.04 L396.60,388.42 L397.63,384.84 L398.67,381.29 L399.71,377.77 L400.75,374.28 L401.78,370.83 L402.82,367.42 L403.86,364.05 L404.90,360.72 L405.93,357.43 L406.97,354.18 L408.01,350.98 L409.05,347.82 L410.09,344.71 L411.12,341.65 L412.16,338.64 L413.20,335.68 L414.24,332.77 L415.27,329.92 L416.31,327.12 L417.35,324.38 L418.39,321.69 L419.42,319.07 L420.46,316.49 L421.50,313.98 L422.54,311.52 L423.57,309.11 L424.61,306.75 L425.65,304.44 L426.69,302.17 L427.73,299.96 L428.76,297.79 L429.80,295.67 L430.84,293.59 L431.88,291.56 L432.91,289.57 L433.95,287.63 L434.99,285.72 L436.03,283.85 L437.06,282.03 L438.10,280.24 L439.14,278.49 L440.18,276.77 L441.22,275.10 L442.25,273.45 L443.29,271.84 L444.33,270.27 L445.37,268.73 L446.40,267.22 L447.44,265.76 L448.48,264.32 L449.52,262.93 L450.55,261.57 L451.59,260.25 L452.63,258.97 L453.67,257.72 L454.70,256.52 L455.74,255.35 L456.78,254.22 L457.82,253.13 L458.86,252.08 L459.89,251.06 L460.93,250.09 L461.97,249.15 L463.01,248.26 L464.04,247.40 L465.08,246.58 L466.12,245.81 L467.16,245.07 L468.19,244.38 L469.23,243.73 L470.27,243.12 L471.31,242.56 L472.35,242.04 L473.38,241.56 L474.42,241.13 L475.46,240.75 L476.50,240.42 L477.53,240.13 L478.57,239.89 L479.61,239.70 L480.65,239.55 L481.68,239.46 L482.72,239.42 L483.76,239.43 L484.80,239.48 L485.83,239.59 L486.87,239.75 L487.91,239.96 L488.95,240.22 L489.99,240.54 L491.02,240.92 L492.06,241.35 L493.10,241.84 L494.14,242.39 L495.17,243.00 L496.21,243.67 L497.25,244.40 L498.29,245.20 L499.32,246.06 L500.36,246.98 L501.40,247.97 L502.44,249.03 L503.48,250.15 L504.51,251.35 L505.55,252.61 L506.59,253.94 L507.63,255.35 L508.66,256.82 L509.70,258.37 L510.74,259.99 L511.78,261.68 L512.81,263.43 L513.85,265.25 L514.89,267.14 L515.93,269.09 L516.96,271.10 L518.00,273.17 L519.04,275.30 L520.08,277.49 L521.12,279.73 L522.15,282.03 L523.19,284.37 L524.23,286.77 L525.27,289.21 L526.30,291.70 L527.34,294.24 L528.38,296.81 L529.42,299.42 L530.45,302.07 L531.49,304.75 L532.53,307.47 L533.57,310.22 L534.61,312.99 L535.64,315.79 L536.68,318.61 L537.72,321.45 L538.76,324.31 L539.79,327.19 L540.83,330.08 L541.87,332.98 L542.91,335.90 L543.94,338.83 L544.98,341.79 L546.02,344.77 L547.06,347.78 L548.09,350.82 L549.13,353.90 L550.17,357.01 L551.21,360.17 L552.25,363.37 L553.28,366.61 L554.32,369.89 L555.36,373.20 L556.40,376.53 L557.43,379.89 L558.47,383.27 L559.51,386.67 L560.55,390.07 L561.58,393.48 L562.62,396.90 L563.66,400.31 L564.70,403.71 L565.74,407.10 L566.77,410.48 L567.81,413.83 L568.85,417.17 L569.89,420.49 L570.92,423.80 L571.96,427.09 L573.00,430.36 L574.04,433.63 L575.07,436.88 L576.11,440.13 L577.15,443.36 L578.19,446.59 L579.22,449.82 L580.26,453.03 L581.30,456.24 L582.34,459.44 L583.38,462.63 L584.41,465.81 L585.45,468.99 L586.49,472.15 L587.53,475.31 L588.56,478.45 L589.60,481.59 L590.64,484.71 L591.68,487.83 L592.71,490.93 L593.75,494.02 L594.79,497.10 L595.83,500.19 L596.87,503.27 L597.90,506.36 L598.94,509.46 L599.98,512.57 L601.02,515.70 L602.05,518.86 L603.09,522.05 L604.13,525.26 L605.17,528.50 L606.20,531.77 L607.24,535.05 L608.28,538.34 L609.32,541.64 L610.35,544.94 L611.39,548.24 L612.43,551.52 L613.47,554.79 L614.51,558.05 L615.54,561.27 L616.58,564.47 L617.62,567.63 L618.66,570.75 L619.69,573.83 L620.73,576.88 L621.77,579.89 L622.81,582.86 L623.84,585.81 L624.88,588.72 L625.92,591.61 L626.96,594.47 L628.00,597.30 L629.03,600.11 L630.07,602.90 L631.11,605.67 L632.15,608.41 L633.18,611.12 L634.22,613.80 L635.26,616.45 L636.30,619.06 L637.33,621.64 L638.37,624.18 L639.41,626.67 L640.45,629.12 L641.48,631.52 L642.52,633.88 L643.56,636.18 L644.60,638.44 L645.64,640.63 L646.67,642.77 L647.71,644.85 L648.75,646.87 L649.79,648.83 L650.82,650.72 L651.86,652.54 L652.90,654.30 L653.94,655.99 L654.97,657.63 L656.01,659.19 L657.05,660.70 L658.09,662.14 L659.12,663.52 L660.16,664.84 L661.20,666.10 L662.24,667.30 L663.28,668.44 L664.31,669.53 L665.35,670.55 L666.39,671.52 L667.43,672.43 L668.46,673.28 L669.50,674.08 L670.54,674.82 L671.58,675.51 L672.61,676.14 L673.65,676.71 L674.69,677.22 L675.73,677.67 L676.77,678.05 L677.80,678.38 L678.84,678.64 L679.88,678.84 L680.92,678.97 L681.95,679.04 L682.99,679.04 L684.03,678.98 L685.07,678.84 L686.10,678.64 L687.14,678.37 L688.18,678.04 L689.22,677.63 L690.25,677.17 L691.29,676.63 L692.33,676.03 L693.37,675.37 L694.41,674.64 L695.44,673.85 L696.48,673.00 L697.52,672.09 L698.56,671.12 L699.59,670.08 L700.63,668.99 L701.67,667.84 L702.71,666.64 L703.74,665.38 L704.78,664.06 L705.82,662.69 L706.86,661.26 L707.90,659.79 L708.93,658.26 L709.97,656.68 L711.01,655.05 L712.05,653.37 L713.08,651.65 L714.12,649.88 L715.16,648.07 L716.20,646.23 L717.23,644.34 L718.27,642.43 L719.31,640.48 L720.35,638.50 L721.38,636.50 L722.42,634.47 L723.46,632.42 L724.50,630.36 L725.54,628.27 L726.57,626.18 L727.61,624.07 L728.65,621.95 L729.69,619.82 L730.72,617.67 L731.76,615.51 L732.80,613.33 L733.84,611.12 L734.87,608.90 L735.91,606.65 L736.95,604.37 L737.99,602.08 L739.03,599.75 L740.06,597.39 L741.10,595.00 L742.14,592.58 L743.18,590.13 L744.21,587.64 L745.25,585.11 L746.29,582.54 L747.33,579.94 L748.36,577.29 L749.40,574.60 L750.44,571.88 L751.48,569.11 L752.51,566.29 L753.55,563.44 L754.59,560.55 L755.63,557.62 L756.67,554.64 L757.70,551.63 L758.74,548.57 L759.78,545.48 L760.82,542.34 L761.85,539.16 L762.89,535.95 L763.93,532.69 L764.97,529.39 L766.00,526.06 L767.04,522.68 L768.08,519.27 L769.12,515.81 L770.16,512.32 L771.19,508.80 L772.23,505.24 L773.27,501.64 L774.31,498.02 L775.34,494.37 L776.38,490.70 L777.42,487.00 L778.46,483.27 L779.49,479.53 L780.53,475.77 L781.57,471.99 L782.61,468.19 L783.64,464.38 L784.68,460.56 L785.72,456.73 L786.76,452.90 L787.80,449.06 L788.83,445.21 L789.87,441.36 L790.91,437.51 L791.95,433.67 L792.98,429.82 L794.02,425.98 L795.06,422.14 L796.10,418.32 L797.13,414.50 L798.17,410.69 L799.21,406.89 L800.25,403.10 L801.29,399.33 L802.32,395.58 L803.36,391.84 L804.40,388.12 L805.44,384.42 L806.47,380.75 L807.51,377.10 L808.55,373.47 L809.59,369.87 L810.62,366.29 L811.66,362.75 L812.70,359.24 L813.74,355.76 L814.77,352.31 L815.81,348.90 L816.85,345.52 L817.89,342.18 L818.93,338.88 L819.96,335.63 L821.00,332.41 L822.04,329.24 L823.08,326.12 L824.11,323.04 L825.15,320.01 L826.19,317.03 L827.23,314.10 L828.26,311.22 L829.30,308.40 L830.34,305.63 L831.38,302.92 L832.42,300.26 L833.45,297.67 L834.49,295.13 L835.53,292.65 L836.57,290.23 L837.60,287.86 L838.64,285.55 L839.68,283.29 L840.72,281.09 L841.75,278.93 L842.79,276.83 L843.83,274.78 L844.87,272.77 L845.90,270.81 L846.94,268.90 L847.98,267.04 L849.02,265.22 L850.06,263.44 L851.09,261.71 L852.13,260.01 L853.17,258.36 L854.21,256.74 L855.24,255.17 L856.28,253.63 L857.32,252.12 L858.36,250.65 L859.39,249.22 L860.43,247.83 L861.47,246.47 L862.51,245.14 L863.55,243.86 L864.58,242.61 L865.62,241.40 L866.66,240.22 L867.70,239.09 L868.73,237.99 L869.77,236.93 L870.81,235.90 L871.85,234.92 L872.88,233.97 L873.92,233.06 L874.96,232.19 L876.00,231.35 L877.03,230.56 L878.07,229.80 L879.11,229.08 L880.15,228.40 L881.19,227.76 L882.22,227.15 L883.26,226.59 L884.30,226.06 L885.34,225.58 L886.37,225.14 L887.41,224.74 L888.45,224.38 L889.49,224.07 L890.52,223.80 L891.56,223.57 L892.60,223.39 L893.64,223.25 L894.68,223.16 L895.71,223.11 L896.75,223.11 L897.79,223.15 L898.83,223.24 L899.86,223.38 L900.90,223.57 L901.94,223.81 L902.98,224.11 L904.01,224.45 L905.05,224.85 L906.09,225.31 L907.13,225.82 L908.16,226.39 L909.20,227.01 L910.24,227.70 L911.28,228.45 L912.32,229.25 L913.35,230.12 L914.39,231.06 L915.43,232.05 L916.47,233.12 L917.50,234.25 L918.54,235.44 L919.58,236.70 L920.62,238.04 L921.65,239.44 L922.69,240.91 L923.73,242.45 L924.77,244.07 L925.81,245.75 L926.84,247.51 L927.88,249.33 L928.92,251.22 L929.96,253.17 L930.99,255.18 L932.03,257.26 L933.07,259.39 L934.11,261.59 L935.14,263.83 L936.18,266.14 L937.22,268.49 L938.26,270.90 L939.29,273.36 L940.33,275.86 L941.37,278.41 L942.41,281.00 L943.45,283.63 L944.48,286.30 L945.52,289.01 L946.56,291.75 L947.60,294.52 L948.63,297.32 L949.67,300.15 L950.71,303.01 L951.75,305.88 L952.78,308.78 L953.82,311.69 L954.86,314.62 L955.90,317.57 L956.94,320.52 L957.97,323.49 L959.01,326.48 L960.05,329.49 L961.09,332.53 L962.12,335.59 L963.16,338.68 L964.20,341.81 L965.24,344.97 L966.27,348.18 L967.31,351.43 L968.35,354.73 L969.39,358.05 L970.42,361.41 L971.46,364.80 L972.50,368.21 L973.54,371.64 L974.58,375.08 L975.61,378.54 L976.65,382.00 L977.69,385.46 L978.73,388.92 L979.76,392.37 L980.80,395.81 L981.84,399.24 L982.88,402.64 L983.91,406.03 L984.95,409.40 L985.99,412.75 L987.03,416.09 L988.07,419.41 L989.10,422.73 L990.14,426.03 L991.18,429.32 L992.22,432.61 L993.25,435.89 L994.29,439.16 L995.33,442.42 L996.37,445.68 L997.40,448.92 L998.44,452.16 L999.48,455.40 L1000.52,458.62 L1001.55,461.83 L1002.59,465.04 L1003.63,468.23 L1004.67,471.41 L1005.71,474.58 L1006.74,477.75 L1007.78,480.90 L1008.82,484.03 L1009.86,487.17 L1010.89,490.30 L1011.93,493.43 L1012.97,496.56 L1014.01,499.71 L1015.04,502.87 L1016.08,506.05 L1017.12,509.26 L1018.16,512.49 L1019.20,515.75 L1020.23,519.04 L1021.27,522.35 L1022.31,525.68 L1023.35,529.02 L1024.38,532.36 L1025.42,535.71 L1026.46,539.05 L1027.50,542.38 L1028.53,545.70 L1029.57,549.00 L1030.61,552.27 L1031.65,555.51 L1032.68,558.72 L1033.72,561.88 L1034.76,565.01 L1035.80,568.10 L1036.84,571.15 L1037.87,574.17 L1038.91,577.16 L1039.95,580.12 L1040.99,583.05 L1042.02,585.95 L1043.06,588.83 L1044.10,591.69 L1045.14,594.52 L1046.17,597.33 L1047.21,600.11 L1048.25,602.87 L1049.29,605.59 L1050.33,608.28 L1051.36,610.94 L1052.40,613.55 L1053.44,616.13 L1054.48,618.67 L1055.51,621.16 L1056.55,623.61 L1057.59,626.00 L1058.63,628.35 L1059.66,630.64 L1060.70,632.88 L1061.74,635.06 L1062.78,637.18 L1063.82,639.23 L1064.85,641.23 L1065.89,643.16 L1066.93,645.02 L1067.97,646.82 L1069.00,648.55 L1070.04,650.22 L1071.08,651.82 L1072.12,653.37 L1073.15,654.85 L1074.19,656.27 L1075.23,657.62 L1076.27,658.92 L1077.30,660.15 L1078.34,661.33 L1079.38,662.45 L1080.42,663.51 L1081.46,664.51 L1082.49,665.45 L1083.53,666.34 L1084.57,667.18 L1085.61,667.95 L1086.64,668.67 L1087.68,669.33 L1088.72,669.94 L1089.76,670.48 L1090.79,670.96 L1091.83,671.38 L1092.87,671.74 L1093.91,672.03 L1094.95,672.26 L1095.98,672.42 L1097.02,672.52 L1098.06,672.55 L1099.10,672.52 L1100.13,672.41 L1101.17,672.24 L1102.21,672.00 L1103.25,671.69 L1104.28,671.32 L1105.32,670.88 L1106.36,670.37 L1107.40,669.80 L1108.43,669.16 L1109.47,668.46 L1110.51,667.70 L1111.55,666.87 L1112.59,665.99 L1113.62,665.04 L1114.66,664.04 L1115.70,662.97 L1116.74,661.85 L1117.77,660.67 L1118.81,659.43 L1119.85,658.14 L1120.89,656.80 L1121.92,655.40 L1122.96,653.94 L1124.00,652.44 L1125.04,650.88 L1126.08,649.28 L1127.11,647.63 L1128.15,645.93 L1129.19,644.18 L1130.23,642.40 L1131.26,640.57 L1132.30,638.71 L1133.34,636.82 L1134.38,634.89 L1135.41,632.94 L1136.45,630.96 L1137.49,628.95 L1138.53,626.93 L1139.56,624.88 L1140.60,622.82 L1141.64,620.75 L1142.68,618.67 L1143.72,616.57 L1144.75,614.46 L1145.79,612.33 L1146.83,610.19 L1147.87,608.03 L1148.90,605.84 L1149.94,603.64 L1150.98,601.41 L1152.02,599.16 L1153.05,596.88 L1154.09,594.57 L1155.13,592.23 L1156.17,589.87 L1157.20,587.46 L1158.24,585.03 L1159.28,582.56 L1160.32,580.05 L1161.36,577.51 L1162.39,574.92 L1163.43,572.29 L1164.47,569.62 L1165.51,566.92 L1166.54,564.16 L1167.58,561.37 L1168.62,558.54 L1169.66,555.67 L1170.69,552.75 L1171.73,549.80 L1172.77,546.80 L1173.81,543.76 L1174.85,540.68 L1175.88,537.57 L1176.92,534.41 L1177.96,531.21 L1179.00,527.97 L1180.03,524.69 L1181.07,521.38 L1182.11,518.02 L1183.15,514.62 L1184.18,511.19 L1185.22,507.71 L1186.26,504.20 L1187.30,500.66 L1188.34,497.09 L1189.37,493.48 L1190.41,489.85 L1191.45,486.19 L1192.49,482.51 L1193.52,478.80 L1194.56,475.08 L1195.60,471.33 L1196.64,467.57 L1197.67,463.79 L1198.71,460.00 L1199.75,456.20 L1200.79,452.38 L1201.82,448.57 L1202.86,444.74 L1203.90,440.91 L1204.94,437.08 L1205.98,433.25 L1207.01,429.42 L1208.05,425.59 L1209.09,421.77 L1210.13,417.95 L1211.16,414.14 L1212.20,410.33 L1213.24,406.54 L1214.28,402.76 L1215.31,398.99 L1216.35,395.24 L1217.39,391.50 L1218.43,387.78 L1219.47,384.08 L1220.50,380.40 L1221.54,376.74 L1222.58,373.11 L1223.62,369.49 L1224.65,365.91 L1225.69,362.35 L1226.73,358.83 L1227.77,355.33 L1228.80,351.87 L1229.84,348.44 L1230.88,345.04 L1231.92,341.68 L1232.95,338.36 L1233.99,335.08 L1235.03,331.84 L1236.07,328.64 L1237.11,325.49 L1238.14,322.38 L1239.18,319.32 L1240.22,316.30 L1241.26,313.34 L1242.29,310.42 L1243.33,307.56 L1244.37,304.76 L1245.41,302.00 L1246.44,299.31 L1247.48,296.67 L1248.52,294.09 L1249.56,291.57 L1250.60,289.11 L1251.63,286.70 L1252.67,284.35 L1253.71,282.06 L1254.75,279.82 L1255.78,277.63 L1256.82,275.49 L1257.86,273.40 L1258.90,271.36 L1259.93,269.37 L1260.97,267.43 L1262.01,265.54 L1263.05,263.69 L1264.08,261.88 L1265.12,260.12 L1266.16,258.40 L1267.20,256.72 L1268.24,255.09 L1269.27,253.49 L1270.31,251.93 L1271.35,250.40 L1272.39,248.91 L1273.42,247.46 L1274.46,246.04 L1275.50,244.66 L1276.54,243.32 L1277.57,242.01 L1278.61,240.74 L1279.65,239.51 L1280.69,238.31 L1281.72,237.15 L1282.76,236.03 L1283.80,234.94 L1284.84,233.90 L1285.88,232.89 L1286.91,231.92 L1287.95,230.98 L1288.99,230.09 L1290.03,229.23 L1291.06,228.41 L1292.10,227.63 L1293.14,226.89 L1294.18,226.18 L1295.21,225.52 L1296.25,224.89 L1297.29,224.30 L1298.33,223.75 L1299.37,223.24 L1300.40,222.77 L1301.44,222.34 L1302.48,221.96 L1303.52,221.61 L1304.55,221.31 L1305.59,221.06 L1306.63,220.84 L1307.67,220.67 L1308.70,220.55 L1309.74,220.47 L1310.78,220.43 L1311.82,220.45 L1312.86,220.50 L1313.89,220.61 L1314.93,220.76 L1315.97,220.96 L1317.01,221.22 L1318.04,221.52 L1319.08,221.88 L1320.12,222.29 L1321.16,222.76 L1322.19,223.29 L1323.23,223.87 L1324.27,224.51 L1325.31,225.20 L1326.34,225.96 L1327.38,226.78 L1328.42,227.67 L1329.46,228.61 L1330.50,229.62 L1331.53,230.70 L1332.57,231.84 L1333.61,233.05 L1334.65,234.32 L1335.68,235.67 L1336.72,237.08 L1337.76,238.57 L1338.80,240.12 L1339.83,241.75 L1340.87,243.45 L1341.91,245.21 L1342.95,247.05 L1343.98,248.95 L1345.02,250.91 L1346.06,252.94 L1347.10,255.03 L1348.14,257.17 L1349.17,259.38 L1350.21,261.64 L1351.25,263.95 L1352.29,266.32 L1353.32,268.74 L1354.36,271.21 L1355.40,273.72 L1356.44,276.28 L1357.47,278.89 L1358.51,281.53 L1359.55,284.21 L1360.59,286.93 L1361.63,289.68 L1362.66,292.47 L1363.70,295.28 L1364.74,298.12 L1365.78,300.99 L1366.81,303.87 L1367.85,306.78 L1368.89,309.71 L1369.93,312.65 L1370.96,315.61 L1372.00,318.57 L1373.04,321.55 L1374.08,324.55 L1375.12,327.57 L1376.15,330.62 L1377.19,333.69 L1378.23,336.80 L1379.27,339.94 L1380.30,343.11 L1381.34,346.33 L1382.38,349.59 L1383.42,352.90 L1384.45,356.24 L1385.49,359.61 L1386.53,363.01 L1387.57,366.43 L1388.60,369.87 L1389.64,373.32 L1390.68,376.79 L1391.72,380.26 L1392.76,383.73 L1393.79,387.20 L1394.83,390.66 L1395.87,394.11 L1396.91,397.55 L1397.94,400.97 L1398.98,404.36 L1400.02,407.74 L1401.06,411.11 L1402.09,414.45 L1403.13,417.79 L1404.17,421.11 L1405.21,424.43 L1406.24,427.73 L1407.28,431.02 L1408.32,434.31 L1409.36,437.59 L1410.40,440.87 L1411.43,444.13 L1412.47,447.39 L1413.51,450.64 L1414.55,453.88 L1415.58,457.12 L1416.62,460.34 L1417.66,463.55 L1418.70,466.75 L1419.73,469.95 L1420.77,473.13 L1421.81,476.30 L1422.85,479.46 L1423.89,482.61 L1424.92,485.75 L1425.96,488.89 L1427.00,492.03 L1428.04,495.18 L1429.07,498.33 L1430.11,501.50 L1431.15,504.69 L1432.19,507.90 L1433.22,511.15 L1434.26,514.42 L1435.30,517.72 L1436.34,521.04 L1437.38,524.37 L1438.41,527.72 L1439.45,531.08 L1440.49,534.43 L1441.53,537.78 L1442.56,541.12 L1443.60,544.45 L1444.64,547.75 L1445.68,551.03 L1446.71,554.28 L1447.75,557.50 L1448.79,560.67 L1449.83,563.81 L1450.86,566.91 L1451.90,569.97 L1452.94,573.00 L1453.98,576.00 L1455.02,578.96 L1456.05,581.90 L1457.09,584.81 L1458.13,587.70 L1459.17,590.56 L1460.20,593.40 L1461.24,596.22 L1462.28,599.01 L1463.32,601.77 L1464.35,604.50 L1465.39,607.20 L1466.43,609.87 L1467.47,612.49 L1468.51,615.08 L1469.54,617.62 L1470.58,620.12 L1471.62,622.57 L1472.66,624.98 L1473.69,627.33 L1474.73,629.63 L1475.77,631.88 L1476.81,634.06 L1477.84,636.19 L1478.88,638.25 L1479.92,640.26 L1480.96,642.19 L1481.99,644.06 L1483.03,645.87 L1484.07,647.61 L1485.11,649.28 L1486.15,650.90 L1487.18,652.44 L1488.22,653.93 L1489.26,655.36 L1490.30,656.72 L1491.33,658.02 L1492.37,659.27 L1493.41,660.45 L1494.45,661.57 L1495.48,662.64 L1496.52,663.65 L1497.56,664.60 L1498.60,665.49 L1499.63,666.33 L1500.67,667.12 L1501.71,667.84 L1502.75,668.51 L1503.79,669.12 L1504.82,669.67 L1505.86,670.15 L1506.90,670.58 L1507.94,670.94 L1508.97,671.24 L1510.01,671.47 L1511.05,671.64 L1512.09,671.75 L1513.12,671.79 L1514.16,671.76 L1515.20,671.66 L1516.24,671.49 L1517.28,671.26 L1518.31,670.95 L1519.35,670.58 L1520.39,670.15 L1521.43,669.65 L1522.46,669.08 L1523.50,668.45 L1524.54,667.75 L1525.58,667.00 L1526.61,666.18 L1527.65,665.30 L1528.69,664.36 L1529.73,663.36 L1530.77,662.30 L1531.80,661.18 L1532.84,660.01 L1533.88,658.78 L1534.92,657.49 L1535.95,656.15 L1536.99,654.75 L1538.03,653.31 L1539.07,651.81 L1540.10,650.26 L1541.14,648.66 L1542.18,647.01 L1543.22,645.32 L1544.25,643.58 L1545.29,641.80 L1546.33,639.98 L1547.37,638.13 L1548.41,636.24 L1549.44,634.32 L1550.48,632.37 L1551.52,630.39 L1552.56,628.39 L1553.59,626.37 L1554.63,624.34 L1555.67,622.28 L1556.71,620.21 L1557.74,618.13 L1558.78,616.04 L1559.82,613.94 L1560.86,611.82 L1561.89,609.68 L1562.93,607.52 L1563.97,605.34 L1565.01,603.14 L1566.05,600.92 L1567.08,598.67 L1568.12,596.40 L1569.16,594.10 L1570.20,591.76 L1571.23,589.40 L1572.27,587.01 L1573.31,584.58 L1574.35,582.11 L1575.38,579.61 L1576.42,577.07 L1577.46,574.49 L1578.50,571.87 L1579.54,569.20 L1580.57,566.50 L1581.61,563.75 L1582.65,560.97 L1583.69,558.14 L1584.72,555.27 L1585.76,552.36 L1586.80,549.41 L1587.84,546.42 L1588.87,543.38 L1589.91,540.31 L1590.95,537.20 L1591.99,534.05 L1593.03,530.85 L1594.06,527.62 L1595.10,524.35 L1596.14,521.03 L1597.18,517.68 L1598.21,514.29 L1599.25,510.86 L1600.29,507.39 L1601.33,503.88 L1602.36,500.35 L1603.40,496.78 L1604.44,493.18 L1605.48,489.55 L1606.51,485.90 L1607.55,482.22 L1608.59,478.52 L1609.63,474.79 L1610.67,471.05 L1611.70,467.29 L1612.74,463.52 L1613.78,459.73 L1614.82,455.94 L1615.85,452.13 L1616.89,448.32 L1617.93,444.49 L1618.97,440.67 L1620.00,436.84 L1621.04,433.02 L1622.08,429.19 L1623.12,425.37 L1624.15,421.55 L1625.19,417.73 L1626.23,413.93 L1627.27,410.13 L1628.31,406.34 L1629.34,402.56 L1630.38,398.80 L1631.42,395.05 L1632.46,391.31 L1633.49,387.60 L1634.53,383.90 L1635.57,380.22 L1636.61,376.57 L1637.64,372.94 L1638.68,369.33 L1639.72,365.75 L1640.76,362.20 L1641.80,358.67 L1642.83,355.18 L1643.87,351.72 L1644.91,348.29 L1645.95,344.90 L1646.98,341.54 L1648.02,338.23 L1649.06,334.95 L1650.10,331.71 L1651.13,328.52 L1652.17,325.37 L1653.21,322.26 L1654.25,319.20 L1655.29,316.19 L1656.32,313.23 L1657.36,310.32 L1658.40,307.46 L1659.44,304.66 L1660.47,301.91 L1661.51,299.22 L1662.55,296.58 L1663.59,294.01 L1664.62,291.49 L1665.66,289.03 L1666.70,286.63 L1667.74,284.28 L1668.77,281.99 L1669.81,279.75 L1670.85,277.56 L1671.89,275.42 L1672.93,273.34 L1673.96,271.30 L1675.00,269.32 L1676.04,267.38 L1677.08,265.48 L1678.11,263.64 L1679.15,261.83 L1680.19,260.08 L1681.23,258.36 L1682.26,256.68 L1683.30,255.05 L1684.34,253.45 L1685.38,251.89 L1686.41,250.37 L1687.45,248.88 L1688.49,247.43 L1689.53,246.01 L1690.57,244.64 L1691.60,243.29 L1692.64,241.99 L1693.68,240.72 L1694.72,239.49 L1695.75,238.29 L1696.79,237.13 L1697.83,236.01 L1698.87,234.93 L1699.90,233.88 L1700.94,232.88 L1701.98,231.91 L1703.02,230.97 L1704.06,230.08 L1705.09,229.22 L1706.13,228.41 L1707.17,227.63 L1708.21,226.88 L1709.24,226.18 L1710.28,225.51 L1711.32,224.88 L1712.36,224.30 L1713.39,223.75 L1714.43,223.24 L1715.47,222.77 L1716.51,222.34 L1717.55,221.96 L1718.58,221.61 L1719.62,221.31 L1720.66,221.06 L1721.70,220.84 L1722.73,220.67 L1723.77,220.55 L1724.81,220.47 L1725.85,220.43 L1726.88,220.45 L1727.92,220.50 L1728.96,220.61 L1730.00,220.76 L1731.03,220.96 L1732.07,221.22 L1733.11,221.52 L1734.15,221.88 L1735.19,222.29 L1736.22,222.76 L1737.26,223.29 L1738.30,223.87 L1739.34,224.51 L1740.37,225.20 L1741.41,225.96 L1742.45,226.78 L1743.49,227.67 L1744.52,228.61 L1745.56,229.62 L1746.60,230.70 L1747.64,231.84 L1748.67,233.05 L1749.71,234.32 L1750.75,235.67 L1751.79,237.08 L1752.83,238.57 L1753.86,240.12 L1754.90,241.75 L1755.94,243.45 L1756.98,245.21 L1758.01,247.05 L1759.05,248.95 L1760.09,250.91 L1761.13,252.94 L1762.16,255.03 L1763.20,257.17 L1764.24,259.38 L1765.28,261.64 L1766.32,263.95 L1767.35,266.32 L1768.39,268.74 L1769.43,271.21 L1770.47,273.72 L1771.50,276.28 L1772.54,278.89 L1773.58,281.53 L1774.62,284.21 L1775.65,286.93 L1776.69,289.68 L1777.73,292.47 L1778.77,295.28 L1779.81,298.12 L1780.84,300.99 L1781.88,303.87 L1782.92,306.78 L1783.96,309.71 L1784.99,312.65 L1786.03,315.61 L1787.07,318.57 L1788.11,321.55 L1789.14,324.55 L1790.18,327.57 L1791.22,330.62 L1792.26,333.69 L1793.29,336.80 L1794.33,339.94 L1795.37,343.11 L1796.41,346.33 L1797.45,349.59 L1798.48,352.90 L1799.52,356.24 L1800.56,359.61 L1801.60,363.01 L1802.63,366.43 L1803.67,369.87 L1804.71,373.32 L1805.75,376.79 L1806.78,380.26 L1807.82,383.73 L1808.86,387.20 L1809.90,390.66 L1810.93,394.11 L1811.97,397.55 L1813.01,400.97 L1814.05,404.36 L1815.09,407.74 L1816.12,411.11 L1817.16,414.45 L1818.20,417.79 L1819.24,421.11 L1820.27,424.43 L1821.31,427.73 L1822.35,431.02 L1823.39,434.31 L1824.42,437.59 L1825.46,440.87 L1826.50,444.13" stroke="#0000ff" stroke-width="8" stroke-dasharray="54 31" stroke-dashoffset="0"/>
</g>
<g shape-rendering="crispEdges">
<rect x="440.1" y="28.1" width="1444.9" height="95.4" fill="#ffffff" stroke="#262626" stroke-width="4.2"/>
<rect x="482" y="66" width="213" height="16" fill="#999999"/>
<rect x="795" y="70" width="213" height="8" fill="#ff0000"/>
<path d="M1198,74 H1412" stroke="#0d4a13" stroke-width="8" stroke-dasharray="44 15 11 15" fill="none"/>
<path d="M1540,74 H1754" stroke="#0000ff" stroke-width="8" stroke-dasharray="54 31" fill="none"/>
</g>
<g font-family="'Liberation Sans', Arial, Helvetica, sans-serif" font-size="69.5" fill="#262626">
<text x="236.5" y="739.89" text-anchor="end">0.2</text>
<text x="236.5" y="561.86" text-anchor="end">0.4</text>
<text x="236.5" y="383.84" text-anchor="end">0.6</text>
<text x="236.5" y="205.81" text-anchor="end">0.8</text>
<text x="248.67" y="901.6">0</text>
<text x="729.15" y="901.6">500</text>
<text x="1231.36 1269.01 1307.67 1346.32" y="901.6">1000</text>
<text x="1750.19 1787.85 1826.5 1865.15" y="901.6">1500</text>
</g>
<rect x="1235.16" y="895.21" width="13.58" height="7.79" fill="#ffffff"/>
<rect x="1255.08" y="895.21" width="13.04" height="7.79" fill="#ffffff"/>
<rect x="1753.99" y="895.21" width="13.58" height="7.79" fill="#ffffff"/>
<rect x="1773.91" y="895.21" width="13.04" height="7.79" fill="#ffffff"/>
<g font-family="'Liberation Serif', 'Times New Roman', Times, serif" fill="#262626" stroke="#ffffff" stroke-width="0.3">
<text transform="scale(1.04,1.04)" font-size="78" x="882.8 932.65 955.61 1015.84 1052.23 1078.82 1108.09" y="951.25">Time(s)</text>
<text transform="rotate(-90) scale(1.04,1.04)" font-size="78" x="-528.42 -486.71 -458.52 -429.06 -392.69 -352.43" y="88.08"><tspan font-style="italic" font-size="78">θ</tspan>(rad)</text>
</g>
<g font-family="'Liberation Serif', 'Times New Roman', Times, serif" fill="#000000" stroke="#ffffff" stroke-width="0.6">
<text font-style="italic"><tspan x="715.06" y="86.6" font-size="49.9">θ</tspan><tspan x="739.14" y="92.7" font-size="37.2">d</tspan></text>
<text font-size="51.5" x="1029.54 1066.32 1090.79 1128.79" y="86.2">CFAC</text>
<text font-size="51.5" x="1431.15 1470.64" y="86.2">NC</text>
<text font-size="51.5" x="1775.47 1808.3 1825.19" y="86.2">PID</text>
</g>
</svg>
</body>
</html>
